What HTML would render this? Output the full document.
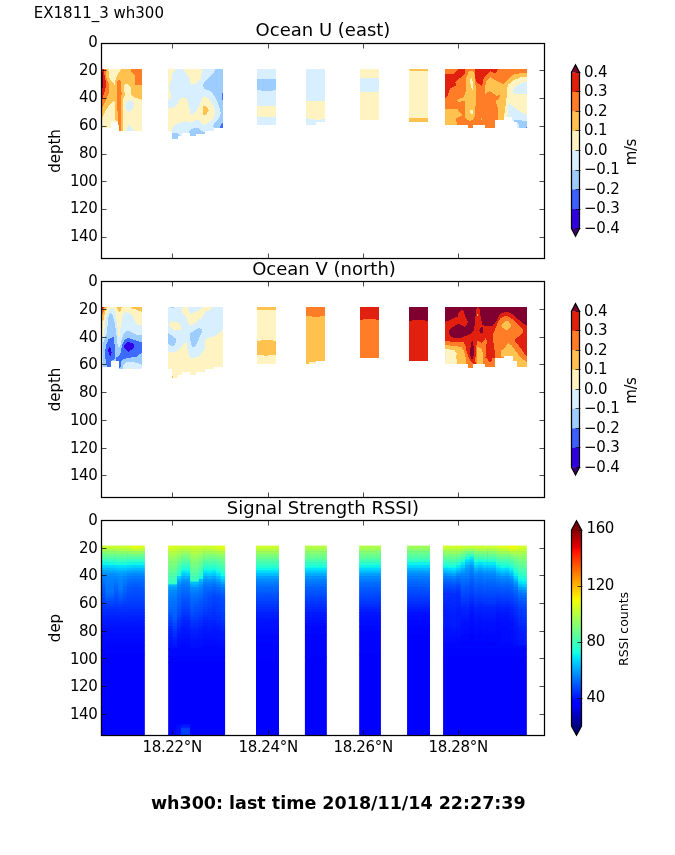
<!DOCTYPE html>
<html><head><meta charset="utf-8"><title>wh300</title>
<style>
html,body{margin:0;padding:0;background:#fff}
svg{display:block}
text{font-family:"DejaVu Sans","Liberation Sans",sans-serif;fill:#000}
.t12{font-size:15px}
.t14{font-size:18px}
.n{letter-spacing:-0.5px}
.m{letter-spacing:-0.3px}
.c{letter-spacing:-0.2px}
.sp{fill:none;stroke:#000;stroke-width:1.25}
.tk{stroke:#000;stroke-width:0.7;fill:none}
</style></head><body>
<svg width="675" height="855" viewBox="0 0 675 855">
<rect width="675" height="855" fill="#fff"/>
<text class="t12" x="33.8" y="18">EX1811_3 wh300</text>
<g shape-rendering="crispEdges">
<path fill="#fff3c2" d="M101.9 69.0L142.0 69.0L142.0 130.9L118.9 130.9L118.9 121.9L111.0 121.9L111.0 127.8L101.9 127.8z"/>
<path fill="#ffc24f" d="M101.9 69.0L108.0 69.0L109.0 73.4L109.1 76.5L110.0 80.0L113.8 83.5L114.4 85.0L115.1 85.0L115.3 80.9L116.2 77.8L117.7 74.3L119.1 72.5L121.0 69.0L142.0 69.0L142.0 99.7L135.7 98.0L131.3 95.3L130.5 91.8L130.9 87.4L126.9 83.9L123.9 85.2L124.3 90.9L125.2 94.5L123.4 98.0L123.0 105.9L123.4 118.1L123.0 130.9L118.9 130.9L118.9 121.9L115.1 119.9L115.1 103.2L113.8 100.6L110.3 104.1L106.8 108.5L104.1 113.8L101.9 118.1z"/>
<path fill="#ff7d27" d="M130.9 69.0L142.0 69.0L142.0 84.8L135.3 84.8L135.3 76.0L130.9 71.6z"/>
<path fill="#ff7d27" d="M118.6 79.5L121.0 81.3L121.0 90.9L121.9 92.7L121.2 97.1L121.0 104.1L121.2 130.9L118.9 130.9L118.4 123.4L118.0 114.6L116.9 105.9L116.9 82.2z"/>
<path fill="#ff7d27" d="M101.9 69.0L105.9 69.0L105.9 75.7L107.2 79.9L108.8 83.7L108.8 92.9L107.6 96.3L105.9 99.7L103.3 105.9L101.9 107.6z"/>
<path fill="#e2200f" d="M102.0 69.0L104.2 69.0L104.2 73.6L105.9 82.0L105.9 87.1L105.1 89.6L103.8 94.6L102.5 98.0L102.0 98.8z"/>
<path fill="#7f0030" d="M102.0 71.5L102.9 71.5L102.9 87.9L102.0 87.9z"/>
<path fill="#d8efff" d="M128.3 100.2L133.1 101.5L134.0 105.9L132.2 109.8L128.7 112.0L126.1 109.8L125.0 105.0L126.1 101.9z"/>
<path fill="#d8efff" d="M126.1 130.9L128.3 125.2L130.0 125.6L133.1 129.5L134.0 130.9z"/>
<path fill="#d8efff" d="M168.0 69.1L223.0 69.1L223.0 127.9L213.8 127.9L213.8 130.7L204.8 130.7L204.8 133.6L195.8 133.6L195.8 135.5L190.1 135.5L190.1 133.6L188.2 133.1L181.5 133.1L181.5 135.5L178.2 135.5L178.2 138.8L172.1 138.8L172.1 133.1L171.1 130.7L168.0 130.7z"/>
<path fill="#fff3c2" d="M168.0 69.1L176.8 69.1L173.5 72.0L172.1 75.3L171.6 80.0L169.7 83.8L169.2 88.5L170.6 93.3L170.6 98.0L168.0 100.9z"/>
<path fill="#fff3c2" d="M183.4 69.1L201.9 69.1L201.5 74.3L200.5 79.1L195.8 83.8L190.1 83.8L189.6 79.1L186.8 74.3z"/>
<path fill="#fff3c2" d="M168.0 107.5L173.5 108.0L177.3 104.7L178.7 100.9L181.1 98.0L186.8 98.0L188.2 103.7L189.6 109.4L190.5 113.7L193.4 114.6L196.2 111.3L199.1 105.6L201.9 99.0L204.3 96.1L208.6 98.0L211.4 102.8L214.3 107.5L215.2 112.3L214.3 117.0L210.5 121.3L203.8 125.1L201.9 123.6L199.6 120.8L196.7 119.8L193.4 121.7L189.6 122.7L186.8 121.3L181.1 122.2L176.3 124.1L173.0 126.5L171.6 130.7L168.0 130.7z"/>
<path fill="#ffc24f" d="M203.3 106.1L205.7 106.1L209.0 110.4L205.7 114.6L203.3 114.6z"/>
<path fill="#9dccff" d="M215.2 69.1L223.0 69.1L223.0 127.9L213.8 127.9L213.1 125.1L215.2 122.7L219.0 118.9L220.9 113.2L219.5 107.5L216.6 99.9L213.3 94.2L210.5 90.9L203.8 89.0L203.1 84.3L205.7 81.0L210.5 76.2L213.3 73.4z"/>
<path fill="#9dccff" d="M188.2 133.1L190.1 130.3L193.4 128.4L199.1 128.2L201.9 131.2L204.8 132.6L204.8 133.6L195.8 133.6L195.8 135.5L190.1 135.5L190.1 133.6z"/>
<path fill="#9dccff" d="M172.1 133.1L178.2 133.1L179.6 135.5L178.2 135.5L178.2 138.8L172.1 138.8z"/>
<path fill="#3d6aff" d="M222.0 92.8L223.0 92.8L223.0 99.9L222.0 99.9z"/>
<path fill="#3d6aff" d="M219.0 127.4L223.0 122.7L223.0 127.9z"/>
<path fill="#d8efff" d="M257.1 69.1L275.9 69.1L275.9 124.8L257.1 124.8z"/>
<path fill="#9dccff" d="M257.1 79.0L275.9 79.0L275.9 90.0L273.0 90.0L273.0 90.9L261.2 90.9L261.2 90.0L257.1 90.0z"/>
<path fill="#fff3c2" d="M257.1 105.8L275.9 105.8L275.9 116.1L274.9 116.1L274.9 117.0L258.1 117.0L258.1 116.1L257.1 116.1z"/>
<path fill="#d8efff" d="M306.1 69.1L324.9 69.1L324.9 121.7L316.0 121.7L316.0 124.8L306.1 124.8z"/>
<path fill="#fff3c2" d="M306.1 100.9L324.9 100.9L324.9 118.6L320.9 118.6L320.9 119.9L314.1 119.9L314.1 118.9L307.9 118.9L307.9 118.0L306.1 118.0z"/>
<path fill="#fff3c2" d="M360.1 69.1L378.9 69.1L378.9 119.9L360.1 119.9z"/>
<path fill="#d8efff" d="M360.1 77.9L378.9 77.9L378.9 90.9L377.9 91.6L361.1 91.6L360.1 90.9z"/>
<path fill="#fff3c2" d="M409.0 69.1L427.9 69.1L427.9 122.0L409.0 122.0z"/>
<path fill="#ffc24f" d="M409.0 69.1L427.9 69.1L427.9 71.0L410.5 71.0z"/>
<path fill="#ffc24f" d="M409.0 117.7L427.9 117.7L427.9 122.0L409.0 122.0z"/>
<path fill="#ff7d27" d="M445.1 69.0L527.1 69.0L527.1 127.8L517.0 127.8L517.0 121.2L511.8 121.2L511.8 116.9L504.3 116.9L504.3 120.0L494.7 120.0L494.7 127.8L485.2 127.8L485.2 124.8L472.9 124.8L472.9 127.8L468.0 127.8L468.0 124.8L445.1 124.8z"/>
<path fill="#e2200f" d="M445.1 74.1L453.7 74.1L456.0 71.1L458.6 69.0L464.8 69.0L464.8 73.7L462.7 76.0L458.6 79.0L455.2 82.0L456.0 85.7L450.0 88.3L448.5 93.2L447.7 96.2L445.1 98.8z"/>
<path fill="#e2200f" d="M475.1 69.0L493.4 69.0L491.0 70.7L488.9 72.2L485.9 75.2L483.7 77.5L482.9 83.5L481.4 85.7L478.4 83.5L475.8 81.2L475.1 75.2z"/>
<path fill="#ffc24f" d="M445.1 108.9L457.5 108.9L459.0 111.9L462.7 115.3L456.7 117.9L456.0 120.1L457.1 124.6L445.1 124.6z"/>
<path fill="#ffc24f" d="M468.7 71.5L472.4 71.1L474.3 72.2L475.1 79.0L475.8 89.4L475.8 102.9L474.7 116.4L473.2 120.1L469.4 120.9L466.4 119.4L464.6 116.4L465.0 101.4L462.0 100.7L459.0 102.5L457.1 101.1L458.6 98.8L462.7 98.1L465.3 93.9L466.1 86.5L466.4 77.5z"/>
<path fill="#fff3c2" d="M470.9 77.8L472.1 79.0L473.2 85.0L473.2 90.6L472.1 89.4L470.6 85.0L470.2 80.5z"/>
<path fill="#fff3c2" d="M470.0 110.6L473.0 109.8L473.3 113.4L471.5 114.0L470.2 112.7z"/>
<path fill="#ffc24f" d="M480.9 117.9L482.0 117.9L482.0 120.0L480.9 120.0z"/>
<path fill="#e2200f" d="M482.0 69.0L497.9 69.0L495.9 73.5L493.9 72.7L490.3 71.2L486.8 73.5L483.6 76.7L482.8 83.5L482.0 83.5L478.8 79.9z"/>
<path fill="#fff3c2" d="M527.1 75.9L520.2 76.7L513.8 79.9L507.4 84.3L506.2 88.6L505.8 97.4L504.7 103.7L503.5 114.9L503.5 116.9L511.8 116.9L511.8 121.2L517.0 122.0L517.0 127.8L527.1 127.8z"/>
<path fill="#ffc24f" d="M490.3 77.1L486.0 81.1L485.2 87.1L485.2 93.8L489.6 91.0L493.9 93.8L496.3 95.8L499.9 95.0L499.1 99.0L496.3 100.6L496.3 103.7L497.9 108.5L498.3 120.0L504.3 120.0L504.3 114.9L505.8 103.7L506.6 97.4L507.0 88.6L508.2 84.7L513.8 79.9L520.2 77.5L527.1 76.7L527.1 73.1L521.0 73.1L513.8 74.3L508.2 79.1L503.1 83.9L499.5 82.3L493.1 79.1z"/>
<path fill="#d8efff" d="M527.1 81.9L523.3 82.7L517.8 85.1L513.8 87.8L513.0 90.2L513.0 92.6L515.4 93.8L527.1 93.8z"/>
<path fill="#d8efff" d="M509.4 104.1L508.2 105.3L507.8 111.7L508.2 116.9L511.8 116.9L511.8 121.2L517.0 121.6L517.4 127.8L527.1 127.8L527.1 114.9L523.3 113.3L519.4 110.9L513.8 106.9z"/>
<path fill="#9dccff" d="M512.2 121.2L515.4 120.0L520.2 120.4L527.1 120.8L527.1 127.8L519.0 127.8L518.6 124.4L517.0 122.0z"/>
<path fill="#3d6aff" d="M526.1 126.8L527.1 126.8L527.1 127.8L526.1 127.8z"/>
<path fill="#d8efff" d="M101.9 307.0L142.0 307.0L142.0 368.9L118.9 368.9L118.9 361.0L111.0 361.0L111.0 366.7L101.9 366.7z"/>
<path fill="#fff3c2" d="M101.9 307.0L142.0 307.0L142.0 325.0L136.6 324.6L134.8 320.2L132.2 315.8L128.7 312.7L125.2 312.3L123.0 314.9L121.7 321.1L120.4 328.9L119.5 336.8L118.6 336.4L117.7 328.9L116.9 321.9L115.5 313.2L113.4 308.3L110.7 308.8L107.6 312.3L105.9 317.5L104.6 326.3L104.1 335.1L101.9 336.8z"/>
<path fill="#ffc24f" d="M116.9 307.0L122.1 307.0L120.8 310.1L119.1 312.7L117.7 309.6z"/>
<path fill="#ffc24f" d="M130.9 307.0L142.0 307.0L142.0 311.8L139.2 311.0L134.8 309.2L131.8 308.3z"/>
<path fill="#ffc24f" d="M101.9 307.0L107.2 307.0L105.9 309.6L104.6 314.0L103.7 320.2L101.9 321.1z"/>
<path fill="#ff7d27" d="M101.9 307.0L105.0 307.0L104.1 309.6L103.3 313.2L101.9 314.0z"/>
<path fill="#e2200f" d="M101.9 307.0L103.7 307.0L103.3 308.8L101.9 309.6z"/>
<path fill="#9dccff" d="M110.3 312.7L112.5 314.9L114.2 320.2L115.5 328.1L116.9 337.7L117.7 345.6L119.1 348.2L120.4 345.6L121.7 339.5L123.4 334.2L126.1 331.1L130.5 331.6L134.8 334.2L139.2 335.1L142.0 334.6L142.0 364.9L136.6 362.7L131.3 361.8L126.1 362.3L123.4 364.9L122.6 368.9L118.9 368.9L118.9 361.0L111.0 361.0L111.0 366.7L103.3 366.7L102.8 349.1L103.1 343.9L104.6 338.6L106.8 333.3L107.6 324.6L108.1 317.5z"/>
<path fill="#3d6aff" d="M111.2 337.7L113.4 336.8L114.2 341.2L115.1 349.1L115.5 357.0L114.2 359.6L111.0 361.0L111.0 366.7L106.8 366.7L105.9 361.4L105.0 356.1L105.5 349.1L106.8 343.0L108.5 339.5z"/>
<path fill="#3d6aff" d="M128.3 337.7L133.1 339.5L137.5 341.2L142.0 342.1L142.0 352.6L139.2 354.4L136.6 356.6L131.3 357.5L126.1 358.3L122.6 359.6L121.2 361.4L121.2 365.8L118.9 368.9L118.9 361.0L116.0 360.5L116.0 357.0L119.1 356.1L120.8 352.6L121.7 347.4L123.0 342.1L125.2 339.5z"/>
<path fill="#3200e6" d="M109.8 346.9L111.2 349.1L111.6 352.6L110.7 356.1L109.0 354.4L108.1 350.9L108.5 348.7z"/>
<path fill="#3200e6" d="M128.3 341.9L134.0 343.9L133.5 347.8L131.3 350.0L128.3 351.8L125.2 349.1L123.9 346.1L125.6 343.9z"/>
<path fill="#fff3c2" d="M126.9 368.0L130.0 368.0L130.0 368.9L126.9 368.9z"/>
<path fill="#fff3c2" d="M168.0 307.1L223.0 307.1L223.0 366.8L213.8 366.8L213.8 368.7L204.8 368.7L204.8 372.1L195.8 372.1L195.8 374.9L190.1 374.9L190.1 372.1L182.0 372.1L182.0 374.9L178.2 374.9L178.2 377.7L172.1 377.7L172.1 368.7L168.0 368.7z"/>
<path fill="#d8efff" d="M168.0 307.1L223.0 307.1L223.0 329.9L219.0 333.2L215.7 336.0L211.4 337.0L206.7 338.4L205.0 340.8L204.8 349.3L201.9 353.1L199.1 356.9L196.2 357.4L190.5 357.8L188.8 354.0L187.2 347.4L186.8 342.2L184.4 343.1L181.1 347.4L178.2 350.7L173.5 352.6L168.0 351.2z"/>
<path fill="#fff3c2" d="M183.4 307.1L187.7 307.1L188.8 310.4L190.1 314.2L194.3 312.3L200.0 310.0L201.9 307.1L212.8 307.1L209.5 310.4L204.8 311.9L203.3 316.1L200.0 319.0L195.3 322.8L192.4 324.8L189.4 324.8L187.2 319.9L185.8 316.1L182.5 313.3L181.1 310.4z"/>
<path fill="#fff3c2" d="M172.1 321.3L177.3 322.3L180.6 325.1L181.8 330.3L174.4 330.3L170.6 327.5L169.2 325.1L170.2 322.3z"/>
<path fill="#9dccff" d="M168.0 332.2L170.6 334.6L173.5 337.5L175.9 338.4L175.9 342.7L174.0 345.5L171.6 346.0L168.0 344.1z"/>
<path fill="#9dccff" d="M199.6 328.0L201.9 329.4L201.9 331.8L199.6 337.0L197.7 341.7L195.3 346.5L192.4 346.6L191.0 344.6L190.1 337.9L190.5 333.2L193.4 330.8L196.7 328.9z"/>
<path fill="#9dccff" d="M171.1 307.1L174.0 307.1L174.0 307.9L171.1 307.9z"/>
<path fill="#ffc24f" d="M172.1 375.9L173.0 375.9L173.0 377.7L172.1 377.7z"/>
<path fill="#fff3c2" d="M257.1 307.1L275.9 307.1L275.9 363.8L257.1 363.8z"/>
<path fill="#ffc24f" d="M257.1 307.1L275.9 307.1L275.9 310.0L257.1 310.0z"/>
<path fill="#ffc24f" d="M257.1 340.8L261.2 340.8L261.2 340.1L273.0 340.1L273.0 340.8L275.9 340.8L275.9 354.8L268.0 354.8L268.0 355.6L263.7 355.6L263.7 354.8L257.1 354.8z"/>
<path fill="#ffc24f" d="M306.1 307.1L324.9 307.1L324.9 361.0L316.0 361.0L316.0 363.5L306.1 363.5z"/>
<path fill="#ff7d27" d="M306.1 307.1L324.9 307.1L324.9 315.9L319.7 315.9L319.7 316.8L312.2 316.8L312.2 315.9L306.1 315.9z"/>
<path fill="#fff3c2" d="M308.5 361.8L316.0 361.8L316.0 363.5L308.5 363.5z"/>
<path fill="#ff7d27" d="M360.1 307.1L378.9 307.1L378.9 357.9L360.1 357.9z"/>
<path fill="#e2200f" d="M360.1 307.1L378.9 307.1L378.9 319.9L375.6 319.9L375.6 319.0L363.2 319.0L363.2 319.9L360.1 319.9z"/>
<path fill="#e2200f" d="M409.0 307.1L427.9 307.1L427.9 361.0L409.0 361.0z"/>
<path fill="#7f0030" d="M409.0 307.1L427.9 307.1L427.9 320.9L424.8 320.9L424.8 319.9L412.4 319.9L412.4 320.9L409.0 320.9z"/>
<path fill="#e2200f" d="M445.1 307.0L527.1 307.0L527.1 366.8L517.0 366.8L517.0 360.8L512.6 360.8L512.6 356.0L504.3 356.0L504.3 358.0L494.7 358.0L494.7 366.8L485.2 366.8L485.2 363.6L472.9 363.6L472.9 367.5L468.0 367.5L468.0 363.6L445.1 363.6z"/>
<path fill="#7f0030" d="M445.1 307.0L476.9 307.0L476.2 310.2L475.4 317.0L475.1 323.7L473.9 327.4L474.3 330.4L470.9 333.4L466.4 335.7L460.5 337.9L454.5 337.9L450.7 336.4L448.9 333.4L448.9 330.4L451.5 328.2L456.7 324.5L459.7 324.1L462.3 326.0L465.0 327.1L466.4 325.2L467.9 322.2L466.4 319.2L465.0 315.5L463.8 311.0L462.0 309.9L459.7 311.7L457.8 314.0L457.5 316.6L454.5 317.7L450.0 320.0L445.1 321.8z"/>
<path fill="#7f0030" d="M478.1 307.0L493.4 307.0L493.4 326.0L485.9 326.0L482.5 324.1L481.0 320.0L480.3 314.7L479.9 310.2z"/>
<path fill="#7f0030" d="M481.4 327.1L482.9 328.9L482.5 332.7L481.0 333.8L479.9 331.9L479.2 330.1z"/>
<path fill="#7f0030" d="M471.3 341.7L472.8 341.3L473.6 346.9L473.9 354.4L472.8 358.5L471.3 358.5L470.2 354.4L470.6 346.9z"/>
<path fill="#ff7d27" d="M445.1 340.9L448.5 341.3L454.5 342.4L460.5 342.0L463.5 342.4L465.3 345.4L466.4 350.7L468.7 357.4L470.9 361.9L472.8 363.8L472.8 367.9L467.9 367.9L467.9 363.8L445.1 363.8z"/>
<path fill="#ffc24f" d="M445.1 345.0L448.5 345.4L456.0 346.2L461.2 346.9L463.5 349.9L465.0 354.4L466.1 360.4L466.4 363.8L445.1 363.8z"/>
<path fill="#fff3c2" d="M445.1 349.2L448.5 349.2L454.5 350.3L456.7 352.9L456.3 357.4L457.1 361.9L457.5 363.8L445.1 363.8z"/>
<path fill="#d8efff" d="M445.1 355.9L446.1 355.9L446.1 358.9L445.1 358.9z"/>
<path fill="#ff7d27" d="M477.7 340.2L480.7 342.4L482.9 342.8L484.4 340.9L485.5 337.9L486.7 340.9L486.3 346.9L485.9 353.6L485.2 358.9L485.2 363.8L476.2 363.8L475.1 360.4L475.8 354.4L476.2 346.9z"/>
<path fill="#ffc24f" d="M477.3 346.9L479.9 347.7L482.2 349.9L482.9 354.4L483.3 359.6L483.7 363.8L477.3 363.8z"/>
<path fill="#ffc24f" d="M476.9 313.2L478.1 314.0L478.1 315.8L476.9 315.8z"/>
<path fill="#7f0030" d="M482.0 307.0L527.1 307.0L527.1 325.8L523.3 323.5L519.4 320.3L515.4 316.7L511.4 313.5L509.0 312.3L505.1 311.9L501.1 313.5L498.7 316.3L497.1 320.3L494.7 323.5L489.9 325.4L485.2 325.8L482.0 325.1z"/>
<path fill="#ff7d27" d="M505.1 315.9L509.0 316.7L512.2 319.1L516.2 322.7L520.2 326.6L522.9 329.8L522.9 332.6L519.4 335.8L515.4 339.4L515.0 341.0L517.8 344.1L521.7 349.7L524.9 354.5L527.1 356.8L527.1 366.8L517.0 366.8L517.0 360.8L512.6 360.8L512.6 356.1L504.3 356.1L504.3 358.0L494.7 358.0L495.1 353.7L493.9 346.5L493.1 340.2L493.5 333.0L495.9 327.4L497.9 321.9L500.7 317.9z"/>
<path fill="#ffc24f" d="M505.8 321.1L508.6 321.5L510.6 323.9L510.6 327.0L508.6 329.4L505.1 329.8L502.3 327.4L501.1 325.1L503.5 322.7z"/>
<path fill="#ffc24f" d="M508.6 343.3L511.0 344.9L513.8 348.1L517.0 352.9L521.7 358.4L527.1 362.4L527.1 366.8L517.0 366.8L517.0 360.8L512.6 360.8L512.6 356.1L504.3 356.1L504.3 356.8L501.5 356.8L501.1 350.5L504.3 348.5L506.6 345.3z"/>
<path fill="#ff7d27" d="M482.0 342.5L484.4 340.2L485.6 338.2L486.4 341.0L486.0 346.5L485.2 352.9L485.2 358.4L487.2 358.0L488.4 360.8L489.9 362.4L491.5 360.8L491.9 358.0L494.7 358.0L494.7 366.8L485.2 366.8L485.2 363.6L482.0 363.6z"/>
<path fill="#e2200f" d="M488.4 358.4L490.7 358.0L491.9 360.0L490.3 362.8L488.4 361.2z"/>
<path fill="#ffc24f" d="M482.0 352.1L483.2 352.1L483.2 363.6L482.0 363.6z"/>
<path fill="#7f0030" d="M482.0 327.4L483.0 327.4L483.0 332.6L482.0 332.6z"/>
</g>
<g>
<rect x="101.5" y="548.4" width="42.7" height="187.1" fill="#0000ff"/>
<rect x="100.9" y="545.6" width="5" height="3.4" fill="#c8ff2f"/>
<rect x="100.9" y="548.4" width="5" height="3.4" fill="#a7ff4f"/>
<rect x="100.9" y="551.1" width="5" height="3.4" fill="#84ff73"/>
<rect x="100.9" y="553.9" width="5" height="3.4" fill="#67ff90"/>
<rect x="100.9" y="556.7" width="5" height="3.4" fill="#4cffaa"/>
<rect x="100.9" y="559.5" width="5" height="3.4" fill="#2fffc8"/>
<rect x="100.9" y="562.2" width="5" height="3.4" fill="#0ff8e8"/>
<rect x="100.9" y="565" width="5" height="3.4" fill="#00d7ff"/>
<rect x="100.9" y="567.8" width="5" height="3.4" fill="#00baff"/>
<rect x="100.9" y="570.5" width="5" height="3.4" fill="#00a0ff"/>
<rect x="100.9" y="573.3" width="5" height="3.4" fill="#008eff"/>
<rect x="100.9" y="576.1" width="5" height="3.4" fill="#0080ff"/>
<rect x="100.9" y="578.9" width="5" height="3.4" fill="#0075ff"/>
<rect x="100.9" y="581.6" width="5" height="3.4" fill="#006dff"/>
<rect x="100.9" y="584.4" width="5" height="3.4" fill="#0066ff"/>
<rect x="100.9" y="587.2" width="5" height="3.4" fill="#005fff"/>
<rect x="100.9" y="589.9" width="5" height="3.4" fill="#0057ff"/>
<rect x="100.9" y="592.7" width="5" height="3.4" fill="#0050ff"/>
<rect x="100.9" y="595.5" width="5" height="3.4" fill="#004dff"/>
<rect x="100.9" y="598.2" width="5" height="3.4" fill="#0045ff"/>
<rect x="100.9" y="601" width="5" height="3.4" fill="#003eff"/>
<rect x="100.9" y="603.8" width="5" height="3.4" fill="#003aff"/>
<rect x="100.9" y="606.6" width="5" height="3.4" fill="#0033ff"/>
<rect x="100.9" y="609.3" width="5" height="3.4" fill="#002cff"/>
<rect x="100.9" y="612.1" width="5" height="3.4" fill="#0028ff"/>
<rect x="100.9" y="614.9" width="5" height="3.4" fill="#0021ff"/>
<rect x="100.9" y="617.6" width="5" height="3.4" fill="#001dff"/>
<rect x="100.9" y="620.4" width="5" height="3.4" fill="#0019ff"/>
<rect x="100.9" y="623.2" width="5" height="3.4" fill="#0016ff"/>
<rect x="100.9" y="626" width="5" height="3.4" fill="#0012ff"/>
<rect x="105.3" y="545.6" width="5" height="3.4" fill="#c8ff2f"/>
<rect x="105.3" y="548.4" width="5" height="3.4" fill="#a7ff4f"/>
<rect x="105.3" y="551.1" width="5" height="3.4" fill="#84ff73"/>
<rect x="105.3" y="553.9" width="5" height="3.4" fill="#67ff90"/>
<rect x="105.3" y="556.7" width="5" height="3.4" fill="#4cffaa"/>
<rect x="105.3" y="559.5" width="5" height="3.4" fill="#2fffc8"/>
<rect x="105.3" y="562.2" width="5" height="3.4" fill="#0ff8e8"/>
<rect x="105.3" y="565" width="5" height="3.4" fill="#00d7ff"/>
<rect x="105.3" y="567.8" width="5" height="3.4" fill="#00baff"/>
<rect x="105.3" y="570.5" width="5" height="3.4" fill="#00a0ff"/>
<rect x="105.3" y="573.3" width="5" height="3.4" fill="#008eff"/>
<rect x="105.3" y="576.1" width="5" height="3.4" fill="#0083ff"/>
<rect x="105.3" y="578.9" width="5" height="3.4" fill="#0080ff"/>
<rect x="105.3" y="581.6" width="5" height="3.4" fill="#007cff"/>
<rect x="105.3" y="584.4" width="5" height="3.4" fill="#0078ff"/>
<rect x="105.3" y="587.2" width="5" height="6.1" fill="#0075ff"/>
<rect x="105.3" y="592.7" width="5" height="3.4" fill="#006aff"/>
<rect x="105.3" y="595.5" width="5" height="3.4" fill="#005fff"/>
<rect x="105.3" y="598.2" width="5" height="3.4" fill="#0054ff"/>
<rect x="105.3" y="601" width="5" height="3.4" fill="#0049ff"/>
<rect x="105.3" y="603.8" width="5" height="3.4" fill="#003eff"/>
<rect x="105.3" y="606.6" width="5" height="3.4" fill="#0033ff"/>
<rect x="105.3" y="609.3" width="5" height="3.4" fill="#002cff"/>
<rect x="105.3" y="612.1" width="5" height="3.4" fill="#0028ff"/>
<rect x="105.3" y="614.9" width="5" height="3.4" fill="#0021ff"/>
<rect x="105.3" y="617.6" width="5" height="3.4" fill="#001dff"/>
<rect x="105.3" y="620.4" width="5" height="3.4" fill="#0019ff"/>
<rect x="105.3" y="623.2" width="5" height="3.4" fill="#0016ff"/>
<rect x="105.3" y="626" width="5" height="3.4" fill="#0012ff"/>
<rect x="109.7" y="545.6" width="5" height="3.4" fill="#c8ff2f"/>
<rect x="109.7" y="548.4" width="5" height="3.4" fill="#a7ff4f"/>
<rect x="109.7" y="551.1" width="5" height="3.4" fill="#87ff70"/>
<rect x="109.7" y="553.9" width="5" height="3.4" fill="#6aff8d"/>
<rect x="109.7" y="556.7" width="5" height="3.4" fill="#4cffaa"/>
<rect x="109.7" y="559.5" width="5" height="3.4" fill="#32ffc5"/>
<rect x="109.7" y="562.2" width="5" height="3.4" fill="#12fbe5"/>
<rect x="109.7" y="565" width="5" height="3.4" fill="#00dbff"/>
<rect x="109.7" y="567.8" width="5" height="3.4" fill="#00bdff"/>
<rect x="109.7" y="570.5" width="5" height="3.4" fill="#00a4ff"/>
<rect x="109.7" y="573.3" width="5" height="3.4" fill="#008eff"/>
<rect x="109.7" y="576.1" width="5" height="3.4" fill="#0087ff"/>
<rect x="109.7" y="578.9" width="5" height="3.4" fill="#0080ff"/>
<rect x="109.7" y="581.6" width="5" height="3.4" fill="#007cff"/>
<rect x="109.7" y="584.4" width="5" height="3.4" fill="#0078ff"/>
<rect x="109.7" y="587.2" width="5" height="6.1" fill="#0075ff"/>
<rect x="109.7" y="592.7" width="5" height="3.4" fill="#006aff"/>
<rect x="109.7" y="595.5" width="5" height="3.4" fill="#005fff"/>
<rect x="109.7" y="598.2" width="5" height="3.4" fill="#0054ff"/>
<rect x="109.7" y="601" width="5" height="3.4" fill="#0049ff"/>
<rect x="109.7" y="603.8" width="5" height="3.4" fill="#003eff"/>
<rect x="109.7" y="606.6" width="5" height="3.4" fill="#0033ff"/>
<rect x="109.7" y="609.3" width="5" height="3.4" fill="#002cff"/>
<rect x="109.7" y="612.1" width="5" height="3.4" fill="#0028ff"/>
<rect x="109.7" y="614.9" width="5" height="3.4" fill="#0021ff"/>
<rect x="109.7" y="617.6" width="5" height="3.4" fill="#001dff"/>
<rect x="109.7" y="620.4" width="5" height="3.4" fill="#0019ff"/>
<rect x="109.7" y="623.2" width="5" height="3.4" fill="#0016ff"/>
<rect x="109.7" y="626" width="5" height="3.4" fill="#0012ff"/>
<rect x="114.1" y="545.6" width="5" height="3.4" fill="#c8ff2f"/>
<rect x="114.1" y="548.4" width="5" height="3.4" fill="#a7ff4f"/>
<rect x="114.1" y="551.1" width="5" height="3.4" fill="#87ff70"/>
<rect x="114.1" y="553.9" width="5" height="3.4" fill="#6aff8d"/>
<rect x="114.1" y="556.7" width="5" height="3.4" fill="#4fffa7"/>
<rect x="114.1" y="559.5" width="5" height="3.4" fill="#35ffc2"/>
<rect x="114.1" y="562.2" width="5" height="3.4" fill="#18ffdf"/>
<rect x="114.1" y="565" width="5" height="3.4" fill="#00defd"/>
<rect x="114.1" y="567.8" width="5" height="3.4" fill="#00c1ff"/>
<rect x="114.1" y="570.5" width="5" height="3.4" fill="#00a8ff"/>
<rect x="114.1" y="573.3" width="5" height="3.4" fill="#0092ff"/>
<rect x="114.1" y="576.1" width="5" height="3.4" fill="#0087ff"/>
<rect x="114.1" y="578.9" width="5" height="3.4" fill="#007cff"/>
<rect x="114.1" y="581.6" width="5" height="3.4" fill="#0075ff"/>
<rect x="114.1" y="584.4" width="5" height="3.4" fill="#006dff"/>
<rect x="114.1" y="587.2" width="5" height="3.4" fill="#0066ff"/>
<rect x="114.1" y="589.9" width="5" height="3.4" fill="#005fff"/>
<rect x="114.1" y="592.7" width="5" height="3.4" fill="#0057ff"/>
<rect x="114.1" y="595.5" width="5" height="3.4" fill="#0050ff"/>
<rect x="114.1" y="598.2" width="5" height="3.4" fill="#0049ff"/>
<rect x="114.1" y="601" width="5" height="3.4" fill="#0042ff"/>
<rect x="114.1" y="603.8" width="5" height="3.4" fill="#003aff"/>
<rect x="114.1" y="606.6" width="5" height="3.4" fill="#0033ff"/>
<rect x="114.1" y="609.3" width="5" height="3.4" fill="#002cff"/>
<rect x="114.1" y="612.1" width="5" height="3.4" fill="#0028ff"/>
<rect x="114.1" y="614.9" width="5" height="3.4" fill="#0021ff"/>
<rect x="114.1" y="617.6" width="5" height="3.4" fill="#001dff"/>
<rect x="114.1" y="620.4" width="5" height="3.4" fill="#0019ff"/>
<rect x="114.1" y="623.2" width="5" height="3.4" fill="#0016ff"/>
<rect x="114.1" y="626" width="5" height="3.4" fill="#0012ff"/>
<rect x="118.5" y="545.6" width="5" height="3.4" fill="#ceff29"/>
<rect x="118.5" y="548.4" width="5" height="3.4" fill="#adff49"/>
<rect x="118.5" y="551.1" width="5" height="3.4" fill="#8aff6d"/>
<rect x="118.5" y="553.9" width="5" height="3.4" fill="#6dff8a"/>
<rect x="118.5" y="556.7" width="5" height="3.4" fill="#52ffa5"/>
<rect x="118.5" y="559.5" width="5" height="3.4" fill="#38ffbf"/>
<rect x="118.5" y="562.2" width="5" height="3.4" fill="#1affdc"/>
<rect x="118.5" y="565" width="5" height="3.4" fill="#00e2fa"/>
<rect x="118.5" y="567.8" width="5" height="3.4" fill="#00c5ff"/>
<rect x="118.5" y="570.5" width="5" height="3.4" fill="#00abff"/>
<rect x="118.5" y="573.3" width="5" height="3.4" fill="#0099ff"/>
<rect x="118.5" y="576.1" width="5" height="3.4" fill="#008eff"/>
<rect x="118.5" y="578.9" width="5" height="3.4" fill="#0087ff"/>
<rect x="118.5" y="581.6" width="5" height="3.4" fill="#0083ff"/>
<rect x="118.5" y="584.4" width="5" height="3.4" fill="#0080ff"/>
<rect x="118.5" y="587.2" width="5" height="3.4" fill="#007cff"/>
<rect x="118.5" y="589.9" width="5" height="3.4" fill="#0071ff"/>
<rect x="118.5" y="592.7" width="5" height="3.4" fill="#0066ff"/>
<rect x="118.5" y="595.5" width="5" height="3.4" fill="#005fff"/>
<rect x="118.5" y="598.2" width="5" height="3.4" fill="#0054ff"/>
<rect x="118.5" y="601" width="5" height="3.4" fill="#0049ff"/>
<rect x="118.5" y="603.8" width="5" height="3.4" fill="#003eff"/>
<rect x="118.5" y="606.6" width="5" height="3.4" fill="#0033ff"/>
<rect x="118.5" y="609.3" width="5" height="3.4" fill="#002fff"/>
<rect x="118.5" y="612.1" width="5" height="3.4" fill="#0028ff"/>
<rect x="118.5" y="614.9" width="5" height="3.4" fill="#0024ff"/>
<rect x="118.5" y="617.6" width="5" height="3.4" fill="#001dff"/>
<rect x="118.5" y="620.4" width="5" height="3.4" fill="#0019ff"/>
<rect x="118.5" y="623.2" width="5" height="3.4" fill="#0016ff"/>
<rect x="118.5" y="626" width="5" height="3.4" fill="#0012ff"/>
<rect x="122.9" y="545.6" width="5" height="3.4" fill="#ceff29"/>
<rect x="122.9" y="548.4" width="5" height="3.4" fill="#adff49"/>
<rect x="122.9" y="551.1" width="5" height="3.4" fill="#8aff6d"/>
<rect x="122.9" y="553.9" width="5" height="3.4" fill="#6dff8a"/>
<rect x="122.9" y="556.7" width="5" height="3.4" fill="#52ffa5"/>
<rect x="122.9" y="559.5" width="5" height="3.4" fill="#38ffbf"/>
<rect x="122.9" y="562.2" width="5" height="3.4" fill="#1affdc"/>
<rect x="122.9" y="565" width="5" height="3.4" fill="#00e2fa"/>
<rect x="122.9" y="567.8" width="5" height="3.4" fill="#00c5ff"/>
<rect x="122.9" y="570.5" width="5" height="3.4" fill="#00abff"/>
<rect x="122.9" y="573.3" width="5" height="3.4" fill="#0095ff"/>
<rect x="122.9" y="576.1" width="5" height="3.4" fill="#0087ff"/>
<rect x="122.9" y="578.9" width="5" height="3.4" fill="#007cff"/>
<rect x="122.9" y="581.6" width="5" height="3.4" fill="#0075ff"/>
<rect x="122.9" y="584.4" width="5" height="3.4" fill="#006dff"/>
<rect x="122.9" y="587.2" width="5" height="3.4" fill="#0066ff"/>
<rect x="122.9" y="589.9" width="5" height="3.4" fill="#005fff"/>
<rect x="122.9" y="592.7" width="5" height="3.4" fill="#0057ff"/>
<rect x="122.9" y="595.5" width="5" height="3.4" fill="#0050ff"/>
<rect x="122.9" y="598.2" width="5" height="3.4" fill="#0049ff"/>
<rect x="122.9" y="601" width="5" height="3.4" fill="#0042ff"/>
<rect x="122.9" y="603.8" width="5" height="3.4" fill="#003aff"/>
<rect x="122.9" y="606.6" width="5" height="3.4" fill="#0033ff"/>
<rect x="122.9" y="609.3" width="5" height="3.4" fill="#002fff"/>
<rect x="122.9" y="612.1" width="5" height="3.4" fill="#0028ff"/>
<rect x="122.9" y="614.9" width="5" height="3.4" fill="#0024ff"/>
<rect x="122.9" y="617.6" width="5" height="3.4" fill="#001dff"/>
<rect x="122.9" y="620.4" width="5" height="3.4" fill="#0019ff"/>
<rect x="122.9" y="623.2" width="5" height="3.4" fill="#0016ff"/>
<rect x="122.9" y="626" width="5" height="3.4" fill="#0012ff"/>
<rect x="127.2" y="545.6" width="5" height="3.4" fill="#d4ff23"/>
<rect x="127.2" y="548.4" width="5" height="3.4" fill="#b0ff47"/>
<rect x="127.2" y="551.1" width="5" height="3.4" fill="#8dff6a"/>
<rect x="127.2" y="553.9" width="5" height="3.4" fill="#6dff8a"/>
<rect x="127.2" y="556.7" width="5" height="3.4" fill="#4cffaa"/>
<rect x="127.2" y="559.5" width="5" height="3.4" fill="#32ffc5"/>
<rect x="127.2" y="562.2" width="5" height="3.4" fill="#12fbe5"/>
<rect x="127.2" y="565" width="5" height="3.4" fill="#00dbff"/>
<rect x="127.2" y="567.8" width="5" height="3.4" fill="#00bdff"/>
<rect x="127.2" y="570.5" width="5" height="3.4" fill="#00a0ff"/>
<rect x="127.2" y="573.3" width="5" height="3.4" fill="#008aff"/>
<rect x="127.2" y="576.1" width="5" height="3.4" fill="#007cff"/>
<rect x="127.2" y="578.9" width="5" height="3.4" fill="#0071ff"/>
<rect x="127.2" y="581.6" width="5" height="3.4" fill="#0066ff"/>
<rect x="127.2" y="584.4" width="5" height="3.4" fill="#005fff"/>
<rect x="127.2" y="587.2" width="5" height="3.4" fill="#0057ff"/>
<rect x="127.2" y="589.9" width="5" height="3.4" fill="#0054ff"/>
<rect x="127.2" y="592.7" width="5" height="3.4" fill="#004dff"/>
<rect x="127.2" y="595.5" width="5" height="3.4" fill="#0049ff"/>
<rect x="127.2" y="598.2" width="5" height="3.4" fill="#0045ff"/>
<rect x="127.2" y="601" width="5" height="3.4" fill="#003eff"/>
<rect x="127.2" y="603.8" width="5" height="3.4" fill="#003aff"/>
<rect x="127.2" y="606.6" width="5" height="3.4" fill="#0033ff"/>
<rect x="127.2" y="609.3" width="5" height="3.4" fill="#002cff"/>
<rect x="127.2" y="612.1" width="5" height="3.4" fill="#0028ff"/>
<rect x="127.2" y="614.9" width="5" height="3.4" fill="#0021ff"/>
<rect x="127.2" y="617.6" width="5" height="3.4" fill="#001dff"/>
<rect x="127.2" y="620.4" width="5" height="3.4" fill="#0019ff"/>
<rect x="127.2" y="623.2" width="5" height="3.4" fill="#0016ff"/>
<rect x="127.2" y="626" width="5" height="3.4" fill="#0012ff"/>
<rect x="131.6" y="545.6" width="5" height="3.4" fill="#e5ff12"/>
<rect x="131.6" y="548.4" width="5" height="3.4" fill="#bcff3b"/>
<rect x="131.6" y="551.1" width="5" height="3.4" fill="#93ff64"/>
<rect x="131.6" y="553.9" width="5" height="3.4" fill="#70ff87"/>
<rect x="131.6" y="556.7" width="5" height="3.4" fill="#4cffaa"/>
<rect x="131.6" y="559.5" width="5" height="3.4" fill="#2fffc8"/>
<rect x="131.6" y="562.2" width="5" height="3.4" fill="#0ff8e8"/>
<rect x="131.6" y="565" width="5" height="3.4" fill="#00d7ff"/>
<rect x="131.6" y="567.8" width="5" height="3.4" fill="#00baff"/>
<rect x="131.6" y="570.5" width="5" height="3.4" fill="#009dff"/>
<rect x="131.6" y="573.3" width="5" height="3.4" fill="#0087ff"/>
<rect x="131.6" y="576.1" width="5" height="3.4" fill="#0078ff"/>
<rect x="131.6" y="578.9" width="5" height="3.4" fill="#006dff"/>
<rect x="131.6" y="581.6" width="5" height="3.4" fill="#0062ff"/>
<rect x="131.6" y="584.4" width="5" height="3.4" fill="#005bff"/>
<rect x="131.6" y="587.2" width="5" height="3.4" fill="#0054ff"/>
<rect x="131.6" y="589.9" width="5" height="3.4" fill="#0050ff"/>
<rect x="131.6" y="592.7" width="5" height="3.4" fill="#004dff"/>
<rect x="131.6" y="595.5" width="5" height="3.4" fill="#0045ff"/>
<rect x="131.6" y="598.2" width="5" height="3.4" fill="#0042ff"/>
<rect x="131.6" y="601" width="5" height="3.4" fill="#003eff"/>
<rect x="131.6" y="603.8" width="5" height="3.4" fill="#003aff"/>
<rect x="131.6" y="606.6" width="5" height="3.4" fill="#0033ff"/>
<rect x="131.6" y="609.3" width="5" height="3.4" fill="#002cff"/>
<rect x="131.6" y="612.1" width="5" height="3.4" fill="#0028ff"/>
<rect x="131.6" y="614.9" width="5" height="3.4" fill="#0021ff"/>
<rect x="131.6" y="617.6" width="5" height="3.4" fill="#001dff"/>
<rect x="131.6" y="620.4" width="5" height="3.4" fill="#0019ff"/>
<rect x="131.6" y="623.2" width="5" height="3.4" fill="#0016ff"/>
<rect x="131.6" y="626" width="5" height="3.4" fill="#0012ff"/>
<rect x="136" y="545.6" width="5" height="3.4" fill="#e5ff12"/>
<rect x="136" y="548.4" width="5" height="3.4" fill="#bcff3b"/>
<rect x="136" y="551.1" width="5" height="3.4" fill="#93ff64"/>
<rect x="136" y="553.9" width="5" height="3.4" fill="#70ff87"/>
<rect x="136" y="556.7" width="5" height="3.4" fill="#4cffaa"/>
<rect x="136" y="559.5" width="5" height="3.4" fill="#2fffc8"/>
<rect x="136" y="562.2" width="5" height="3.4" fill="#0ff8e8"/>
<rect x="136" y="565" width="5" height="3.4" fill="#00d7ff"/>
<rect x="136" y="567.8" width="5" height="3.4" fill="#00baff"/>
<rect x="136" y="570.5" width="5" height="3.4" fill="#009dff"/>
<rect x="136" y="573.3" width="5" height="3.4" fill="#0087ff"/>
<rect x="136" y="576.1" width="5" height="3.4" fill="#0078ff"/>
<rect x="136" y="578.9" width="5" height="3.4" fill="#006dff"/>
<rect x="136" y="581.6" width="5" height="3.4" fill="#0062ff"/>
<rect x="136" y="584.4" width="5" height="3.4" fill="#005bff"/>
<rect x="136" y="587.2" width="5" height="3.4" fill="#0054ff"/>
<rect x="136" y="589.9" width="5" height="3.4" fill="#0050ff"/>
<rect x="136" y="592.7" width="5" height="3.4" fill="#004dff"/>
<rect x="136" y="595.5" width="5" height="3.4" fill="#0045ff"/>
<rect x="136" y="598.2" width="5" height="3.4" fill="#0042ff"/>
<rect x="136" y="601" width="5" height="3.4" fill="#003eff"/>
<rect x="136" y="603.8" width="5" height="3.4" fill="#003aff"/>
<rect x="136" y="606.6" width="5" height="3.4" fill="#0033ff"/>
<rect x="136" y="609.3" width="5" height="3.4" fill="#002cff"/>
<rect x="136" y="612.1" width="5" height="3.4" fill="#0028ff"/>
<rect x="136" y="614.9" width="5" height="3.4" fill="#0021ff"/>
<rect x="136" y="617.6" width="5" height="3.4" fill="#001dff"/>
<rect x="136" y="620.4" width="5" height="3.4" fill="#0019ff"/>
<rect x="136" y="623.2" width="5" height="3.4" fill="#0016ff"/>
<rect x="136" y="626" width="5" height="3.4" fill="#0012ff"/>
<rect x="140.4" y="545.6" width="4.4" height="3.4" fill="#d9ff1d"/>
<rect x="140.4" y="548.4" width="4.4" height="3.4" fill="#b3ff44"/>
<rect x="140.4" y="551.1" width="4.4" height="3.4" fill="#8dff6a"/>
<rect x="140.4" y="553.9" width="4.4" height="3.4" fill="#6dff8a"/>
<rect x="140.4" y="556.7" width="4.4" height="3.4" fill="#4cffaa"/>
<rect x="140.4" y="559.5" width="4.4" height="3.4" fill="#2fffc8"/>
<rect x="140.4" y="562.2" width="4.4" height="3.4" fill="#0ff8e8"/>
<rect x="140.4" y="565" width="4.4" height="3.4" fill="#00d7ff"/>
<rect x="140.4" y="567.8" width="4.4" height="3.4" fill="#00baff"/>
<rect x="140.4" y="570.5" width="4.4" height="3.4" fill="#00a0ff"/>
<rect x="140.4" y="573.3" width="4.4" height="3.4" fill="#008aff"/>
<rect x="140.4" y="576.1" width="4.4" height="3.4" fill="#007cff"/>
<rect x="140.4" y="578.9" width="4.4" height="3.4" fill="#006dff"/>
<rect x="140.4" y="581.6" width="4.4" height="3.4" fill="#0066ff"/>
<rect x="140.4" y="584.4" width="4.4" height="3.4" fill="#005fff"/>
<rect x="140.4" y="587.2" width="4.4" height="3.4" fill="#0057ff"/>
<rect x="140.4" y="589.9" width="4.4" height="3.4" fill="#0050ff"/>
<rect x="140.4" y="592.7" width="4.4" height="3.4" fill="#004dff"/>
<rect x="140.4" y="595.5" width="4.4" height="3.4" fill="#0049ff"/>
<rect x="140.4" y="598.2" width="4.4" height="3.4" fill="#0045ff"/>
<rect x="140.4" y="601" width="4.4" height="3.4" fill="#003eff"/>
<rect x="140.4" y="603.8" width="4.4" height="3.4" fill="#003aff"/>
<rect x="140.4" y="606.6" width="4.4" height="3.4" fill="#0033ff"/>
<rect x="140.4" y="609.3" width="4.4" height="3.4" fill="#002cff"/>
<rect x="140.4" y="612.1" width="4.4" height="3.4" fill="#0028ff"/>
<rect x="140.4" y="614.9" width="4.4" height="3.4" fill="#0021ff"/>
<rect x="140.4" y="617.6" width="4.4" height="3.4" fill="#001dff"/>
<rect x="140.4" y="620.4" width="4.4" height="3.4" fill="#0019ff"/>
<rect x="140.4" y="623.2" width="4.4" height="3.4" fill="#0016ff"/>
<rect x="140.4" y="626" width="4.4" height="3.4" fill="#0012ff"/>
<rect x="100.9" y="628.7" width="43.9" height="6.1" fill="#000fff"/>
<rect x="100.9" y="634.3" width="43.9" height="6.1" fill="#000bff"/>
<rect x="100.9" y="639.8" width="43.9" height="6.1" fill="#0007ff"/>
<rect x="100.9" y="645.4" width="43.9" height="8.9" fill="#0004ff"/>
<rect x="100.9" y="653.7" width="43.9" height="81.8" fill="#0000ff"/>
<rect x="168.8" y="548.4" width="55.7" height="187.1" fill="#0000ff"/>
<rect x="168.2" y="545.6" width="5" height="3.4" fill="#d9ff1d"/>
<rect x="168.2" y="548.4" width="5" height="3.4" fill="#c8ff2f"/>
<rect x="168.2" y="551.1" width="5" height="3.4" fill="#b6ff41"/>
<rect x="168.2" y="553.9" width="5" height="3.4" fill="#a7ff4f"/>
<rect x="168.2" y="556.7" width="5" height="3.4" fill="#96ff61"/>
<rect x="168.2" y="559.5" width="5" height="3.4" fill="#8aff6d"/>
<rect x="168.2" y="562.2" width="5" height="3.4" fill="#7eff78"/>
<rect x="168.2" y="565" width="5" height="3.4" fill="#73ff84"/>
<rect x="168.2" y="567.8" width="5" height="3.4" fill="#6aff8d"/>
<rect x="168.2" y="570.5" width="5" height="3.4" fill="#5eff99"/>
<rect x="168.2" y="573.3" width="5" height="3.4" fill="#52ffa5"/>
<rect x="168.2" y="576.1" width="5" height="3.4" fill="#49ffad"/>
<rect x="168.2" y="578.9" width="5" height="3.4" fill="#3effb9"/>
<rect x="168.2" y="581.6" width="5" height="3.4" fill="#35ffc2"/>
<rect x="168.2" y="584.4" width="5" height="3.4" fill="#00b2ff"/>
<rect x="168.2" y="587.2" width="5" height="3.4" fill="#009dff"/>
<rect x="168.2" y="589.9" width="5" height="3.4" fill="#008eff"/>
<rect x="168.2" y="592.7" width="5" height="3.4" fill="#0083ff"/>
<rect x="168.2" y="595.5" width="5" height="3.4" fill="#007cff"/>
<rect x="168.2" y="598.2" width="5" height="3.4" fill="#0078ff"/>
<rect x="168.2" y="601" width="5" height="3.4" fill="#0071ff"/>
<rect x="168.2" y="603.8" width="5" height="3.4" fill="#006dff"/>
<rect x="168.2" y="606.6" width="5" height="3.4" fill="#006aff"/>
<rect x="168.2" y="609.3" width="5" height="3.4" fill="#0062ff"/>
<rect x="168.2" y="612.1" width="5" height="3.4" fill="#005bff"/>
<rect x="168.2" y="614.9" width="5" height="3.4" fill="#0050ff"/>
<rect x="168.2" y="617.6" width="5" height="3.4" fill="#0049ff"/>
<rect x="168.2" y="620.4" width="5" height="3.4" fill="#003eff"/>
<rect x="168.2" y="623.2" width="5" height="3.4" fill="#0037ff"/>
<rect x="168.2" y="626" width="5" height="3.4" fill="#002cff"/>
<rect x="168.2" y="628.7" width="5" height="3.4" fill="#0024ff"/>
<rect x="168.2" y="631.5" width="5" height="3.4" fill="#0021ff"/>
<rect x="168.2" y="634.3" width="5" height="3.4" fill="#001dff"/>
<rect x="168.2" y="637" width="5" height="3.4" fill="#0019ff"/>
<rect x="168.2" y="639.8" width="5" height="3.4" fill="#0016ff"/>
<rect x="168.2" y="642.6" width="5" height="3.4" fill="#0012ff"/>
<rect x="168.2" y="645.4" width="5" height="3.4" fill="#000fff"/>
<rect x="172.6" y="545.6" width="5" height="3.4" fill="#d4ff23"/>
<rect x="172.6" y="548.4" width="5" height="3.4" fill="#c5ff32"/>
<rect x="172.6" y="551.1" width="5" height="3.4" fill="#b3ff44"/>
<rect x="172.6" y="553.9" width="5" height="3.4" fill="#a5ff52"/>
<rect x="172.6" y="556.7" width="5" height="3.4" fill="#96ff61"/>
<rect x="172.6" y="559.5" width="5" height="3.4" fill="#8aff6d"/>
<rect x="172.6" y="562.2" width="5" height="3.4" fill="#7eff78"/>
<rect x="172.6" y="565" width="5" height="3.4" fill="#73ff84"/>
<rect x="172.6" y="567.8" width="5" height="3.4" fill="#6aff8d"/>
<rect x="172.6" y="570.5" width="5" height="3.4" fill="#5eff99"/>
<rect x="172.6" y="573.3" width="5" height="3.4" fill="#52ffa5"/>
<rect x="172.6" y="576.1" width="5" height="3.4" fill="#49ffad"/>
<rect x="172.6" y="578.9" width="5" height="3.4" fill="#3effb9"/>
<rect x="172.6" y="581.6" width="5" height="3.4" fill="#35ffc2"/>
<rect x="172.6" y="584.4" width="5" height="3.4" fill="#00b2ff"/>
<rect x="172.6" y="587.2" width="5" height="3.4" fill="#009dff"/>
<rect x="172.6" y="589.9" width="5" height="3.4" fill="#008aff"/>
<rect x="172.6" y="592.7" width="5" height="3.4" fill="#0083ff"/>
<rect x="172.6" y="595.5" width="5" height="3.4" fill="#007cff"/>
<rect x="172.6" y="598.2" width="5" height="3.4" fill="#0075ff"/>
<rect x="172.6" y="601" width="5" height="3.4" fill="#0071ff"/>
<rect x="172.6" y="603.8" width="5" height="3.4" fill="#006dff"/>
<rect x="172.6" y="606.6" width="5" height="3.4" fill="#006aff"/>
<rect x="172.6" y="609.3" width="5" height="3.4" fill="#0066ff"/>
<rect x="172.6" y="612.1" width="5" height="3.4" fill="#0062ff"/>
<rect x="172.6" y="614.9" width="5" height="3.4" fill="#005fff"/>
<rect x="172.6" y="617.6" width="5" height="3.4" fill="#005bff"/>
<rect x="172.6" y="620.4" width="5" height="3.4" fill="#0050ff"/>
<rect x="172.6" y="623.2" width="5" height="3.4" fill="#0049ff"/>
<rect x="172.6" y="626" width="5" height="3.4" fill="#0042ff"/>
<rect x="172.6" y="628.7" width="5" height="3.4" fill="#0037ff"/>
<rect x="172.6" y="631.5" width="5" height="3.4" fill="#002fff"/>
<rect x="172.6" y="634.3" width="5" height="3.4" fill="#002cff"/>
<rect x="172.6" y="637" width="5" height="3.4" fill="#0024ff"/>
<rect x="172.6" y="639.8" width="5" height="3.4" fill="#001dff"/>
<rect x="172.6" y="642.6" width="5" height="3.4" fill="#0019ff"/>
<rect x="172.6" y="645.4" width="5" height="3.4" fill="#0012ff"/>
<rect x="177" y="545.6" width="5" height="3.4" fill="#ceff29"/>
<rect x="177" y="548.4" width="5" height="3.4" fill="#b9ff3e"/>
<rect x="177" y="551.1" width="5" height="3.4" fill="#a7ff4f"/>
<rect x="177" y="553.9" width="5" height="3.4" fill="#93ff64"/>
<rect x="177" y="556.7" width="5" height="3.4" fill="#81ff76"/>
<rect x="177" y="559.5" width="5" height="3.4" fill="#73ff84"/>
<rect x="177" y="562.2" width="5" height="3.4" fill="#61ff96"/>
<rect x="177" y="565" width="5" height="3.4" fill="#52ffa5"/>
<rect x="177" y="567.8" width="5" height="3.4" fill="#44ffb3"/>
<rect x="177" y="570.5" width="5" height="3.4" fill="#35ffc2"/>
<rect x="177" y="573.3" width="5" height="3.4" fill="#26ffd1"/>
<rect x="177" y="576.1" width="5" height="3.4" fill="#00d0ff"/>
<rect x="177" y="578.9" width="5" height="3.4" fill="#00b2ff"/>
<rect x="177" y="581.6" width="5" height="3.4" fill="#0099ff"/>
<rect x="177" y="584.4" width="5" height="3.4" fill="#0087ff"/>
<rect x="177" y="587.2" width="5" height="3.4" fill="#007cff"/>
<rect x="177" y="589.9" width="5" height="3.4" fill="#0075ff"/>
<rect x="177" y="592.7" width="5" height="3.4" fill="#006dff"/>
<rect x="177" y="595.5" width="5" height="3.4" fill="#006aff"/>
<rect x="177" y="598.2" width="5" height="3.4" fill="#0062ff"/>
<rect x="177" y="601" width="5" height="3.4" fill="#005fff"/>
<rect x="177" y="603.8" width="5" height="3.4" fill="#005bff"/>
<rect x="177" y="606.6" width="5" height="3.4" fill="#0054ff"/>
<rect x="177" y="609.3" width="5" height="3.4" fill="#0050ff"/>
<rect x="177" y="612.1" width="5" height="3.4" fill="#004dff"/>
<rect x="177" y="614.9" width="5" height="3.4" fill="#0045ff"/>
<rect x="177" y="617.6" width="5" height="3.4" fill="#003aff"/>
<rect x="177" y="620.4" width="5" height="3.4" fill="#0033ff"/>
<rect x="177" y="623.2" width="5" height="3.4" fill="#002fff"/>
<rect x="177" y="626" width="5" height="3.4" fill="#0028ff"/>
<rect x="177" y="628.7" width="5" height="3.4" fill="#0021ff"/>
<rect x="177" y="631.5" width="5" height="3.4" fill="#001dff"/>
<rect x="177" y="634.3" width="5" height="3.4" fill="#0016ff"/>
<rect x="177" y="637" width="5" height="3.4" fill="#0012ff"/>
<rect x="177" y="639.8" width="5" height="3.4" fill="#000fff"/>
<rect x="177" y="642.6" width="5" height="6.1" fill="#000bff"/>
<rect x="181.3" y="545.6" width="5" height="3.4" fill="#ceff29"/>
<rect x="181.3" y="548.4" width="5" height="3.4" fill="#b3ff44"/>
<rect x="181.3" y="551.1" width="5" height="3.4" fill="#9cff5b"/>
<rect x="181.3" y="553.9" width="5" height="3.4" fill="#81ff76"/>
<rect x="181.3" y="556.7" width="5" height="3.4" fill="#6dff8a"/>
<rect x="181.3" y="559.5" width="5" height="3.4" fill="#58ff9f"/>
<rect x="181.3" y="562.2" width="5" height="3.4" fill="#44ffb3"/>
<rect x="181.3" y="565" width="5" height="3.4" fill="#2fffc8"/>
<rect x="181.3" y="567.8" width="5" height="3.4" fill="#1affdc"/>
<rect x="181.3" y="570.5" width="5" height="3.4" fill="#00e5f7"/>
<rect x="181.3" y="573.3" width="5" height="3.4" fill="#00c8ff"/>
<rect x="181.3" y="576.1" width="5" height="3.4" fill="#00afff"/>
<rect x="181.3" y="578.9" width="5" height="3.4" fill="#0095ff"/>
<rect x="181.3" y="581.6" width="5" height="3.4" fill="#0083ff"/>
<rect x="181.3" y="584.4" width="5" height="3.4" fill="#0078ff"/>
<rect x="181.3" y="587.2" width="5" height="3.4" fill="#0071ff"/>
<rect x="181.3" y="589.9" width="5" height="3.4" fill="#006aff"/>
<rect x="181.3" y="592.7" width="5" height="3.4" fill="#0062ff"/>
<rect x="181.3" y="595.5" width="5" height="3.4" fill="#005bff"/>
<rect x="181.3" y="598.2" width="5" height="3.4" fill="#0054ff"/>
<rect x="181.3" y="601" width="5" height="3.4" fill="#004dff"/>
<rect x="181.3" y="603.8" width="5" height="3.4" fill="#0049ff"/>
<rect x="181.3" y="606.6" width="5" height="3.4" fill="#0042ff"/>
<rect x="181.3" y="609.3" width="5" height="3.4" fill="#003eff"/>
<rect x="181.3" y="612.1" width="5" height="3.4" fill="#0037ff"/>
<rect x="181.3" y="614.9" width="5" height="3.4" fill="#002fff"/>
<rect x="181.3" y="617.6" width="5" height="3.4" fill="#0028ff"/>
<rect x="181.3" y="620.4" width="5" height="3.4" fill="#0024ff"/>
<rect x="181.3" y="623.2" width="5" height="3.4" fill="#0021ff"/>
<rect x="181.3" y="626" width="5" height="3.4" fill="#0019ff"/>
<rect x="181.3" y="628.7" width="5" height="6.1" fill="#0016ff"/>
<rect x="181.3" y="634.3" width="5" height="3.4" fill="#0012ff"/>
<rect x="181.3" y="637" width="5" height="3.4" fill="#000fff"/>
<rect x="181.3" y="639.8" width="5" height="6.1" fill="#000bff"/>
<rect x="181.3" y="645.4" width="5" height="3.4" fill="#0007ff"/>
<rect x="185.7" y="545.6" width="5" height="3.4" fill="#ceff29"/>
<rect x="185.7" y="548.4" width="5" height="3.4" fill="#b6ff41"/>
<rect x="185.7" y="551.1" width="5" height="3.4" fill="#9cff5b"/>
<rect x="185.7" y="553.9" width="5" height="3.4" fill="#81ff76"/>
<rect x="185.7" y="556.7" width="5" height="3.4" fill="#6dff8a"/>
<rect x="185.7" y="559.5" width="5" height="3.4" fill="#5bff9c"/>
<rect x="185.7" y="562.2" width="5" height="3.4" fill="#47ffb0"/>
<rect x="185.7" y="565" width="5" height="3.4" fill="#32ffc5"/>
<rect x="185.7" y="567.8" width="5" height="3.4" fill="#1dffd9"/>
<rect x="185.7" y="570.5" width="5" height="3.4" fill="#06edf1"/>
<rect x="185.7" y="573.3" width="5" height="3.4" fill="#00d0ff"/>
<rect x="185.7" y="576.1" width="5" height="3.4" fill="#00b2ff"/>
<rect x="185.7" y="578.9" width="5" height="3.4" fill="#0099ff"/>
<rect x="185.7" y="581.6" width="5" height="3.4" fill="#0087ff"/>
<rect x="185.7" y="584.4" width="5" height="3.4" fill="#007cff"/>
<rect x="185.7" y="587.2" width="5" height="3.4" fill="#0071ff"/>
<rect x="185.7" y="589.9" width="5" height="3.4" fill="#006aff"/>
<rect x="185.7" y="592.7" width="5" height="3.4" fill="#0062ff"/>
<rect x="185.7" y="595.5" width="5" height="3.4" fill="#005bff"/>
<rect x="185.7" y="598.2" width="5" height="3.4" fill="#0054ff"/>
<rect x="185.7" y="601" width="5" height="3.4" fill="#0050ff"/>
<rect x="185.7" y="603.8" width="5" height="3.4" fill="#0049ff"/>
<rect x="185.7" y="606.6" width="5" height="3.4" fill="#0045ff"/>
<rect x="185.7" y="609.3" width="5" height="3.4" fill="#003eff"/>
<rect x="185.7" y="612.1" width="5" height="3.4" fill="#0037ff"/>
<rect x="185.7" y="614.9" width="5" height="3.4" fill="#002fff"/>
<rect x="185.7" y="617.6" width="5" height="3.4" fill="#002cff"/>
<rect x="185.7" y="620.4" width="5" height="3.4" fill="#0024ff"/>
<rect x="185.7" y="623.2" width="5" height="3.4" fill="#0021ff"/>
<rect x="185.7" y="626" width="5" height="3.4" fill="#001dff"/>
<rect x="185.7" y="628.7" width="5" height="3.4" fill="#0019ff"/>
<rect x="185.7" y="631.5" width="5" height="3.4" fill="#0016ff"/>
<rect x="185.7" y="634.3" width="5" height="3.4" fill="#0012ff"/>
<rect x="185.7" y="637" width="5" height="3.4" fill="#000fff"/>
<rect x="185.7" y="639.8" width="5" height="6.1" fill="#000bff"/>
<rect x="185.7" y="645.4" width="5" height="3.4" fill="#0007ff"/>
<rect x="190.1" y="545.6" width="5" height="3.4" fill="#ceff29"/>
<rect x="190.1" y="548.4" width="5" height="3.4" fill="#bfff38"/>
<rect x="190.1" y="551.1" width="5" height="3.4" fill="#b0ff47"/>
<rect x="190.1" y="553.9" width="5" height="3.4" fill="#a2ff55"/>
<rect x="190.1" y="556.7" width="5" height="3.4" fill="#93ff64"/>
<rect x="190.1" y="559.5" width="5" height="3.4" fill="#87ff70"/>
<rect x="190.1" y="562.2" width="5" height="3.4" fill="#7bff7b"/>
<rect x="190.1" y="565" width="5" height="3.4" fill="#70ff87"/>
<rect x="190.1" y="567.8" width="5" height="3.4" fill="#64ff93"/>
<rect x="190.1" y="570.5" width="5" height="3.4" fill="#5bff9c"/>
<rect x="190.1" y="573.3" width="5" height="3.4" fill="#4fffa7"/>
<rect x="190.1" y="576.1" width="5" height="3.4" fill="#44ffb3"/>
<rect x="190.1" y="578.9" width="5" height="3.4" fill="#38ffbf"/>
<rect x="190.1" y="581.6" width="5" height="3.4" fill="#00bdff"/>
<rect x="190.1" y="584.4" width="5" height="3.4" fill="#00a4ff"/>
<rect x="190.1" y="587.2" width="5" height="3.4" fill="#008eff"/>
<rect x="190.1" y="589.9" width="5" height="3.4" fill="#0083ff"/>
<rect x="190.1" y="592.7" width="5" height="3.4" fill="#0078ff"/>
<rect x="190.1" y="595.5" width="5" height="3.4" fill="#0071ff"/>
<rect x="190.1" y="598.2" width="5" height="3.4" fill="#006aff"/>
<rect x="190.1" y="601" width="5" height="3.4" fill="#0062ff"/>
<rect x="190.1" y="603.8" width="5" height="3.4" fill="#005fff"/>
<rect x="190.1" y="606.6" width="5" height="3.4" fill="#0057ff"/>
<rect x="190.1" y="609.3" width="5" height="3.4" fill="#0054ff"/>
<rect x="190.1" y="612.1" width="5" height="3.4" fill="#004dff"/>
<rect x="190.1" y="614.9" width="5" height="3.4" fill="#0045ff"/>
<rect x="190.1" y="617.6" width="5" height="3.4" fill="#003eff"/>
<rect x="190.1" y="620.4" width="5" height="3.4" fill="#0037ff"/>
<rect x="190.1" y="623.2" width="5" height="3.4" fill="#002fff"/>
<rect x="190.1" y="626" width="5" height="3.4" fill="#0028ff"/>
<rect x="190.1" y="628.7" width="5" height="3.4" fill="#0021ff"/>
<rect x="190.1" y="631.5" width="5" height="3.4" fill="#001dff"/>
<rect x="190.1" y="634.3" width="5" height="3.4" fill="#0019ff"/>
<rect x="190.1" y="637" width="5" height="3.4" fill="#0016ff"/>
<rect x="190.1" y="639.8" width="5" height="3.4" fill="#0012ff"/>
<rect x="190.1" y="642.6" width="5" height="6.1" fill="#000fff"/>
<rect x="194.5" y="545.6" width="5" height="3.4" fill="#ceff29"/>
<rect x="194.5" y="548.4" width="5" height="3.4" fill="#bfff38"/>
<rect x="194.5" y="551.1" width="5" height="3.4" fill="#b0ff47"/>
<rect x="194.5" y="553.9" width="5" height="3.4" fill="#a2ff55"/>
<rect x="194.5" y="556.7" width="5" height="3.4" fill="#93ff64"/>
<rect x="194.5" y="559.5" width="5" height="3.4" fill="#87ff70"/>
<rect x="194.5" y="562.2" width="5" height="3.4" fill="#7bff7b"/>
<rect x="194.5" y="565" width="5" height="3.4" fill="#70ff87"/>
<rect x="194.5" y="567.8" width="5" height="3.4" fill="#64ff93"/>
<rect x="194.5" y="570.5" width="5" height="3.4" fill="#5bff9c"/>
<rect x="194.5" y="573.3" width="5" height="3.4" fill="#4fffa7"/>
<rect x="194.5" y="576.1" width="5" height="3.4" fill="#44ffb3"/>
<rect x="194.5" y="578.9" width="5" height="3.4" fill="#38ffbf"/>
<rect x="194.5" y="581.6" width="5" height="3.4" fill="#00bdff"/>
<rect x="194.5" y="584.4" width="5" height="3.4" fill="#00a4ff"/>
<rect x="194.5" y="587.2" width="5" height="3.4" fill="#008eff"/>
<rect x="194.5" y="589.9" width="5" height="3.4" fill="#0080ff"/>
<rect x="194.5" y="592.7" width="5" height="3.4" fill="#0075ff"/>
<rect x="194.5" y="595.5" width="5" height="3.4" fill="#006dff"/>
<rect x="194.5" y="598.2" width="5" height="3.4" fill="#0066ff"/>
<rect x="194.5" y="601" width="5" height="3.4" fill="#005fff"/>
<rect x="194.5" y="603.8" width="5" height="3.4" fill="#0057ff"/>
<rect x="194.5" y="606.6" width="5" height="3.4" fill="#0050ff"/>
<rect x="194.5" y="609.3" width="5" height="3.4" fill="#004dff"/>
<rect x="194.5" y="612.1" width="5" height="3.4" fill="#0045ff"/>
<rect x="194.5" y="614.9" width="5" height="3.4" fill="#0042ff"/>
<rect x="194.5" y="617.6" width="5" height="3.4" fill="#003aff"/>
<rect x="194.5" y="620.4" width="5" height="3.4" fill="#0033ff"/>
<rect x="194.5" y="623.2" width="5" height="3.4" fill="#002cff"/>
<rect x="194.5" y="626" width="5" height="3.4" fill="#0028ff"/>
<rect x="194.5" y="628.7" width="5" height="3.4" fill="#0021ff"/>
<rect x="194.5" y="631.5" width="5" height="3.4" fill="#001dff"/>
<rect x="194.5" y="634.3" width="5" height="3.4" fill="#0019ff"/>
<rect x="194.5" y="637" width="5" height="3.4" fill="#0016ff"/>
<rect x="194.5" y="639.8" width="5" height="3.4" fill="#0012ff"/>
<rect x="194.5" y="642.6" width="5" height="6.1" fill="#000fff"/>
<rect x="198.8" y="545.6" width="5" height="3.4" fill="#ceff29"/>
<rect x="198.8" y="548.4" width="5" height="3.4" fill="#bcff3b"/>
<rect x="198.8" y="551.1" width="5" height="3.4" fill="#a7ff4f"/>
<rect x="198.8" y="553.9" width="5" height="3.4" fill="#96ff61"/>
<rect x="198.8" y="556.7" width="5" height="3.4" fill="#81ff76"/>
<rect x="198.8" y="559.5" width="5" height="3.4" fill="#73ff84"/>
<rect x="198.8" y="562.2" width="5" height="3.4" fill="#67ff90"/>
<rect x="198.8" y="565" width="5" height="3.4" fill="#58ff9f"/>
<rect x="198.8" y="567.8" width="5" height="3.4" fill="#49ffad"/>
<rect x="198.8" y="570.5" width="5" height="3.4" fill="#3bffbc"/>
<rect x="198.8" y="573.3" width="5" height="3.4" fill="#2cffcb"/>
<rect x="198.8" y="576.1" width="5" height="3.4" fill="#1affdc"/>
<rect x="198.8" y="578.9" width="5" height="3.4" fill="#00bdff"/>
<rect x="198.8" y="581.6" width="5" height="3.4" fill="#00a4ff"/>
<rect x="198.8" y="584.4" width="5" height="3.4" fill="#008eff"/>
<rect x="198.8" y="587.2" width="5" height="3.4" fill="#0080ff"/>
<rect x="198.8" y="589.9" width="5" height="3.4" fill="#0075ff"/>
<rect x="198.8" y="592.7" width="5" height="3.4" fill="#006dff"/>
<rect x="198.8" y="595.5" width="5" height="3.4" fill="#0066ff"/>
<rect x="198.8" y="598.2" width="5" height="3.4" fill="#005fff"/>
<rect x="198.8" y="601" width="5" height="3.4" fill="#0057ff"/>
<rect x="198.8" y="603.8" width="5" height="3.4" fill="#0050ff"/>
<rect x="198.8" y="606.6" width="5" height="3.4" fill="#004dff"/>
<rect x="198.8" y="609.3" width="5" height="3.4" fill="#0045ff"/>
<rect x="198.8" y="612.1" width="5" height="3.4" fill="#0042ff"/>
<rect x="198.8" y="614.9" width="5" height="3.4" fill="#003aff"/>
<rect x="198.8" y="617.6" width="5" height="3.4" fill="#0033ff"/>
<rect x="198.8" y="620.4" width="5" height="3.4" fill="#002cff"/>
<rect x="198.8" y="623.2" width="5" height="3.4" fill="#0028ff"/>
<rect x="198.8" y="626" width="5" height="3.4" fill="#0021ff"/>
<rect x="198.8" y="628.7" width="5" height="3.4" fill="#001dff"/>
<rect x="198.8" y="631.5" width="5" height="3.4" fill="#0019ff"/>
<rect x="198.8" y="634.3" width="5" height="3.4" fill="#0016ff"/>
<rect x="198.8" y="637" width="5" height="3.4" fill="#0012ff"/>
<rect x="198.8" y="639.8" width="5" height="6.1" fill="#000fff"/>
<rect x="198.8" y="645.4" width="5" height="3.4" fill="#000bff"/>
<rect x="203.2" y="545.6" width="5" height="3.4" fill="#ceff29"/>
<rect x="203.2" y="548.4" width="5" height="3.4" fill="#b3ff44"/>
<rect x="203.2" y="551.1" width="5" height="3.4" fill="#9cff5b"/>
<rect x="203.2" y="553.9" width="5" height="3.4" fill="#81ff76"/>
<rect x="203.2" y="556.7" width="5" height="3.4" fill="#6dff8a"/>
<rect x="203.2" y="559.5" width="5" height="3.4" fill="#58ff9f"/>
<rect x="203.2" y="562.2" width="5" height="3.4" fill="#44ffb3"/>
<rect x="203.2" y="565" width="5" height="3.4" fill="#2fffc8"/>
<rect x="203.2" y="567.8" width="5" height="3.4" fill="#18ffdf"/>
<rect x="203.2" y="570.5" width="5" height="3.4" fill="#00e5f7"/>
<rect x="203.2" y="573.3" width="5" height="3.4" fill="#00c8ff"/>
<rect x="203.2" y="576.1" width="5" height="3.4" fill="#00a8ff"/>
<rect x="203.2" y="578.9" width="5" height="3.4" fill="#0092ff"/>
<rect x="203.2" y="581.6" width="5" height="3.4" fill="#0080ff"/>
<rect x="203.2" y="584.4" width="5" height="3.4" fill="#0071ff"/>
<rect x="203.2" y="587.2" width="5" height="3.4" fill="#006aff"/>
<rect x="203.2" y="589.9" width="5" height="3.4" fill="#0062ff"/>
<rect x="203.2" y="592.7" width="5" height="3.4" fill="#005bff"/>
<rect x="203.2" y="595.5" width="5" height="3.4" fill="#0057ff"/>
<rect x="203.2" y="598.2" width="5" height="3.4" fill="#0054ff"/>
<rect x="203.2" y="601" width="5" height="3.4" fill="#004dff"/>
<rect x="203.2" y="603.8" width="5" height="3.4" fill="#0049ff"/>
<rect x="203.2" y="606.6" width="5" height="3.4" fill="#0042ff"/>
<rect x="203.2" y="609.3" width="5" height="3.4" fill="#003eff"/>
<rect x="203.2" y="612.1" width="5" height="3.4" fill="#0037ff"/>
<rect x="203.2" y="614.9" width="5" height="3.4" fill="#002fff"/>
<rect x="203.2" y="617.6" width="5" height="3.4" fill="#0028ff"/>
<rect x="203.2" y="620.4" width="5" height="3.4" fill="#0024ff"/>
<rect x="203.2" y="623.2" width="5" height="3.4" fill="#0021ff"/>
<rect x="203.2" y="626" width="5" height="3.4" fill="#0019ff"/>
<rect x="203.2" y="628.7" width="5" height="6.1" fill="#0016ff"/>
<rect x="203.2" y="634.3" width="5" height="3.4" fill="#0012ff"/>
<rect x="203.2" y="637" width="5" height="3.4" fill="#000fff"/>
<rect x="203.2" y="639.8" width="5" height="6.1" fill="#000bff"/>
<rect x="203.2" y="645.4" width="5" height="3.4" fill="#0007ff"/>
<rect x="207.6" y="545.6" width="5" height="3.4" fill="#ceff29"/>
<rect x="207.6" y="548.4" width="5" height="3.4" fill="#b6ff41"/>
<rect x="207.6" y="551.1" width="5" height="3.4" fill="#9cff5b"/>
<rect x="207.6" y="553.9" width="5" height="3.4" fill="#81ff76"/>
<rect x="207.6" y="556.7" width="5" height="3.4" fill="#6dff8a"/>
<rect x="207.6" y="559.5" width="5" height="3.4" fill="#5bff9c"/>
<rect x="207.6" y="562.2" width="5" height="3.4" fill="#47ffb0"/>
<rect x="207.6" y="565" width="5" height="3.4" fill="#32ffc5"/>
<rect x="207.6" y="567.8" width="5" height="3.4" fill="#1dffd9"/>
<rect x="207.6" y="570.5" width="5" height="3.4" fill="#06edf1"/>
<rect x="207.6" y="573.3" width="5" height="3.4" fill="#00d0ff"/>
<rect x="207.6" y="576.1" width="5" height="3.4" fill="#00b2ff"/>
<rect x="207.6" y="578.9" width="5" height="3.4" fill="#0095ff"/>
<rect x="207.6" y="581.6" width="5" height="3.4" fill="#0080ff"/>
<rect x="207.6" y="584.4" width="5" height="3.4" fill="#0075ff"/>
<rect x="207.6" y="587.2" width="5" height="3.4" fill="#006aff"/>
<rect x="207.6" y="589.9" width="5" height="3.4" fill="#005fff"/>
<rect x="207.6" y="592.7" width="5" height="3.4" fill="#0054ff"/>
<rect x="207.6" y="595.5" width="5" height="3.4" fill="#004dff"/>
<rect x="207.6" y="598.2" width="5" height="3.4" fill="#0049ff"/>
<rect x="207.6" y="601" width="5" height="3.4" fill="#0045ff"/>
<rect x="207.6" y="603.8" width="5" height="3.4" fill="#0042ff"/>
<rect x="207.6" y="606.6" width="5" height="3.4" fill="#003eff"/>
<rect x="207.6" y="609.3" width="5" height="3.4" fill="#0037ff"/>
<rect x="207.6" y="612.1" width="5" height="3.4" fill="#0033ff"/>
<rect x="207.6" y="614.9" width="5" height="3.4" fill="#002fff"/>
<rect x="207.6" y="617.6" width="5" height="3.4" fill="#002cff"/>
<rect x="207.6" y="620.4" width="5" height="3.4" fill="#0024ff"/>
<rect x="207.6" y="623.2" width="5" height="3.4" fill="#0021ff"/>
<rect x="207.6" y="626" width="5" height="3.4" fill="#001dff"/>
<rect x="207.6" y="628.7" width="5" height="3.4" fill="#0019ff"/>
<rect x="207.6" y="631.5" width="5" height="3.4" fill="#0016ff"/>
<rect x="207.6" y="634.3" width="5" height="3.4" fill="#0012ff"/>
<rect x="207.6" y="637" width="5" height="3.4" fill="#000fff"/>
<rect x="207.6" y="639.8" width="5" height="6.1" fill="#000bff"/>
<rect x="207.6" y="645.4" width="5" height="3.4" fill="#0007ff"/>
<rect x="212" y="545.6" width="5" height="3.4" fill="#d4ff23"/>
<rect x="212" y="548.4" width="5" height="3.4" fill="#b9ff3e"/>
<rect x="212" y="551.1" width="5" height="3.4" fill="#9cff5b"/>
<rect x="212" y="553.9" width="5" height="3.4" fill="#81ff76"/>
<rect x="212" y="556.7" width="5" height="3.4" fill="#6aff8d"/>
<rect x="212" y="559.5" width="5" height="3.4" fill="#55ffa2"/>
<rect x="212" y="562.2" width="5" height="3.4" fill="#41ffb6"/>
<rect x="212" y="565" width="5" height="3.4" fill="#2cffcb"/>
<rect x="212" y="567.8" width="5" height="3.4" fill="#15ffe2"/>
<rect x="212" y="570.5" width="5" height="3.4" fill="#00e2fa"/>
<rect x="212" y="573.3" width="5" height="3.4" fill="#00c5ff"/>
<rect x="212" y="576.1" width="5" height="3.4" fill="#00a8ff"/>
<rect x="212" y="578.9" width="5" height="3.4" fill="#008eff"/>
<rect x="212" y="581.6" width="5" height="3.4" fill="#007cff"/>
<rect x="212" y="584.4" width="5" height="3.4" fill="#006dff"/>
<rect x="212" y="587.2" width="5" height="3.4" fill="#0062ff"/>
<rect x="212" y="589.9" width="5" height="3.4" fill="#0057ff"/>
<rect x="212" y="592.7" width="5" height="3.4" fill="#004dff"/>
<rect x="212" y="595.5" width="5" height="6.1" fill="#0042ff"/>
<rect x="212" y="601" width="5" height="3.4" fill="#003eff"/>
<rect x="212" y="603.8" width="5" height="3.4" fill="#003aff"/>
<rect x="212" y="606.6" width="5" height="3.4" fill="#0037ff"/>
<rect x="212" y="609.3" width="5" height="3.4" fill="#0033ff"/>
<rect x="212" y="612.1" width="5" height="3.4" fill="#002fff"/>
<rect x="212" y="614.9" width="5" height="3.4" fill="#002cff"/>
<rect x="212" y="617.6" width="5" height="3.4" fill="#0028ff"/>
<rect x="212" y="620.4" width="5" height="3.4" fill="#0024ff"/>
<rect x="212" y="623.2" width="5" height="3.4" fill="#001dff"/>
<rect x="212" y="626" width="5" height="3.4" fill="#0019ff"/>
<rect x="212" y="628.7" width="5" height="3.4" fill="#0016ff"/>
<rect x="212" y="631.5" width="5" height="6.1" fill="#0012ff"/>
<rect x="212" y="637" width="5" height="3.4" fill="#000fff"/>
<rect x="212" y="639.8" width="5" height="6.1" fill="#000bff"/>
<rect x="212" y="645.4" width="5" height="3.4" fill="#0007ff"/>
<rect x="216.3" y="545.6" width="5" height="3.4" fill="#dfff18"/>
<rect x="216.3" y="548.4" width="5" height="3.4" fill="#c2ff35"/>
<rect x="216.3" y="551.1" width="5" height="3.4" fill="#a7ff4f"/>
<rect x="216.3" y="553.9" width="5" height="3.4" fill="#8dff6a"/>
<rect x="216.3" y="556.7" width="5" height="3.4" fill="#73ff84"/>
<rect x="216.3" y="559.5" width="5" height="3.4" fill="#61ff96"/>
<rect x="216.3" y="562.2" width="5" height="3.4" fill="#4cffaa"/>
<rect x="216.3" y="565" width="5" height="3.4" fill="#3bffbc"/>
<rect x="216.3" y="567.8" width="5" height="3.4" fill="#29ffce"/>
<rect x="216.3" y="570.5" width="5" height="3.4" fill="#12fbe5"/>
<rect x="216.3" y="573.3" width="5" height="3.4" fill="#00e2fa"/>
<rect x="216.3" y="576.1" width="5" height="3.4" fill="#00c1ff"/>
<rect x="216.3" y="578.9" width="5" height="3.4" fill="#00a4ff"/>
<rect x="216.3" y="581.6" width="5" height="3.4" fill="#008aff"/>
<rect x="216.3" y="584.4" width="5" height="3.4" fill="#0078ff"/>
<rect x="216.3" y="587.2" width="5" height="3.4" fill="#006aff"/>
<rect x="216.3" y="589.9" width="5" height="3.4" fill="#005fff"/>
<rect x="216.3" y="592.7" width="5" height="3.4" fill="#0054ff"/>
<rect x="216.3" y="595.5" width="5" height="3.4" fill="#0049ff"/>
<rect x="216.3" y="598.2" width="5" height="3.4" fill="#0045ff"/>
<rect x="216.3" y="601" width="5" height="3.4" fill="#0042ff"/>
<rect x="216.3" y="603.8" width="5" height="6.1" fill="#003eff"/>
<rect x="216.3" y="609.3" width="5" height="3.4" fill="#003aff"/>
<rect x="216.3" y="612.1" width="5" height="3.4" fill="#0037ff"/>
<rect x="216.3" y="614.9" width="5" height="6.1" fill="#002fff"/>
<rect x="216.3" y="620.4" width="5" height="3.4" fill="#0028ff"/>
<rect x="216.3" y="623.2" width="5" height="3.4" fill="#0024ff"/>
<rect x="216.3" y="626" width="5" height="3.4" fill="#001dff"/>
<rect x="216.3" y="628.7" width="5" height="3.4" fill="#0019ff"/>
<rect x="216.3" y="631.5" width="5" height="3.4" fill="#0016ff"/>
<rect x="216.3" y="634.3" width="5" height="6.1" fill="#0012ff"/>
<rect x="216.3" y="639.8" width="5" height="3.4" fill="#000fff"/>
<rect x="216.3" y="642.6" width="5" height="6.1" fill="#000bff"/>
<rect x="220.7" y="545.6" width="4.4" height="3.4" fill="#e5ff12"/>
<rect x="220.7" y="548.4" width="4.4" height="3.4" fill="#cbff2c"/>
<rect x="220.7" y="551.1" width="4.4" height="3.4" fill="#b0ff47"/>
<rect x="220.7" y="553.9" width="4.4" height="3.4" fill="#93ff64"/>
<rect x="220.7" y="556.7" width="4.4" height="3.4" fill="#7bff7b"/>
<rect x="220.7" y="559.5" width="4.4" height="3.4" fill="#6aff8d"/>
<rect x="220.7" y="562.2" width="4.4" height="3.4" fill="#5bff9c"/>
<rect x="220.7" y="565" width="4.4" height="3.4" fill="#49ffad"/>
<rect x="220.7" y="567.8" width="4.4" height="3.4" fill="#3bffbc"/>
<rect x="220.7" y="570.5" width="4.4" height="3.4" fill="#29ffce"/>
<rect x="220.7" y="573.3" width="4.4" height="3.4" fill="#15ffe2"/>
<rect x="220.7" y="576.1" width="4.4" height="3.4" fill="#00e5f7"/>
<rect x="220.7" y="578.9" width="4.4" height="3.4" fill="#00c5ff"/>
<rect x="220.7" y="581.6" width="4.4" height="3.4" fill="#00a4ff"/>
<rect x="220.7" y="584.4" width="4.4" height="3.4" fill="#008aff"/>
<rect x="220.7" y="587.2" width="4.4" height="3.4" fill="#0078ff"/>
<rect x="220.7" y="589.9" width="4.4" height="3.4" fill="#006aff"/>
<rect x="220.7" y="592.7" width="4.4" height="3.4" fill="#005bff"/>
<rect x="220.7" y="595.5" width="4.4" height="3.4" fill="#0054ff"/>
<rect x="220.7" y="598.2" width="4.4" height="3.4" fill="#004dff"/>
<rect x="220.7" y="601" width="4.4" height="3.4" fill="#0049ff"/>
<rect x="220.7" y="603.8" width="4.4" height="3.4" fill="#0045ff"/>
<rect x="220.7" y="606.6" width="4.4" height="6.1" fill="#0042ff"/>
<rect x="220.7" y="612.1" width="4.4" height="3.4" fill="#003eff"/>
<rect x="220.7" y="614.9" width="4.4" height="3.4" fill="#003aff"/>
<rect x="220.7" y="617.6" width="4.4" height="3.4" fill="#0037ff"/>
<rect x="220.7" y="620.4" width="4.4" height="3.4" fill="#002fff"/>
<rect x="220.7" y="623.2" width="4.4" height="3.4" fill="#0028ff"/>
<rect x="220.7" y="626" width="4.4" height="3.4" fill="#0024ff"/>
<rect x="220.7" y="628.7" width="4.4" height="3.4" fill="#0021ff"/>
<rect x="220.7" y="631.5" width="4.4" height="3.4" fill="#0019ff"/>
<rect x="220.7" y="634.3" width="4.4" height="6.1" fill="#0016ff"/>
<rect x="220.7" y="639.8" width="4.4" height="3.4" fill="#0012ff"/>
<rect x="220.7" y="642.6" width="4.4" height="3.4" fill="#000fff"/>
<rect x="220.7" y="645.4" width="4.4" height="3.4" fill="#000bff"/>
<rect x="168.2" y="648.1" width="56.9" height="8.9" fill="#0007ff"/>
<rect x="168.2" y="656.4" width="56.9" height="6.1" fill="#0004ff"/>
<rect x="168.2" y="662" width="56.9" height="73.5" fill="#0000ff"/>
<rect x="256.6" y="548.4" width="21.8" height="187.1" fill="#0000ff"/>
<rect x="256" y="545.6" width="23" height="3.4" fill="#ceff29"/>
<rect x="256" y="548.4" width="23" height="3.4" fill="#b3ff44"/>
<rect x="256" y="551.1" width="23" height="3.4" fill="#99ff5e"/>
<rect x="256" y="553.9" width="23" height="3.4" fill="#7eff78"/>
<rect x="256" y="556.7" width="23" height="3.4" fill="#67ff90"/>
<rect x="256" y="559.5" width="23" height="3.4" fill="#52ffa5"/>
<rect x="256" y="562.2" width="23" height="3.4" fill="#3effb9"/>
<rect x="256" y="565" width="23" height="3.4" fill="#29ffce"/>
<rect x="256" y="567.8" width="23" height="3.4" fill="#0ff8e8"/>
<rect x="256" y="570.5" width="23" height="3.4" fill="#00dbff"/>
<rect x="256" y="573.3" width="23" height="3.4" fill="#00bdff"/>
<rect x="256" y="576.1" width="23" height="3.4" fill="#00a0ff"/>
<rect x="256" y="578.9" width="23" height="3.4" fill="#008aff"/>
<rect x="256" y="581.6" width="23" height="3.4" fill="#007cff"/>
<rect x="256" y="584.4" width="23" height="3.4" fill="#0071ff"/>
<rect x="256" y="587.2" width="23" height="3.4" fill="#0066ff"/>
<rect x="256" y="589.9" width="23" height="3.4" fill="#005fff"/>
<rect x="256" y="592.7" width="23" height="3.4" fill="#0054ff"/>
<rect x="256" y="595.5" width="23" height="3.4" fill="#004dff"/>
<rect x="256" y="598.2" width="23" height="3.4" fill="#0045ff"/>
<rect x="256" y="601" width="23" height="3.4" fill="#003eff"/>
<rect x="256" y="603.8" width="23" height="3.4" fill="#0037ff"/>
<rect x="256" y="606.6" width="23" height="3.4" fill="#002fff"/>
<rect x="256" y="609.3" width="23" height="3.4" fill="#0028ff"/>
<rect x="256" y="612.1" width="23" height="3.4" fill="#0021ff"/>
<rect x="256" y="614.9" width="23" height="3.4" fill="#001dff"/>
<rect x="256" y="617.6" width="23" height="3.4" fill="#0016ff"/>
<rect x="256" y="620.4" width="23" height="3.4" fill="#0012ff"/>
<rect x="256" y="623.2" width="23" height="3.4" fill="#0012ff"/>
<rect x="256" y="626" width="23" height="3.4" fill="#000fff"/>
<rect x="256" y="628.7" width="23" height="6.1" fill="#000bff"/>
<rect x="256" y="634.3" width="23" height="8.9" fill="#0007ff"/>
<rect x="256" y="642.6" width="23" height="17.2" fill="#0004ff"/>
<rect x="256" y="659.2" width="23" height="76.3" fill="#0000ff"/>
<rect x="305.5" y="548.4" width="20.7" height="187.1" fill="#0000ff"/>
<rect x="304.9" y="545.6" width="21.9" height="3.4" fill="#b6ff41"/>
<rect x="304.9" y="548.4" width="21.9" height="3.4" fill="#9fff58"/>
<rect x="304.9" y="551.1" width="21.9" height="3.4" fill="#87ff70"/>
<rect x="304.9" y="553.9" width="21.9" height="3.4" fill="#73ff84"/>
<rect x="304.9" y="556.7" width="21.9" height="3.4" fill="#61ff96"/>
<rect x="304.9" y="559.5" width="21.9" height="3.4" fill="#49ffad"/>
<rect x="304.9" y="562.2" width="21.9" height="3.4" fill="#32ffc5"/>
<rect x="304.9" y="565" width="21.9" height="3.4" fill="#1affdc"/>
<rect x="304.9" y="567.8" width="21.9" height="3.4" fill="#00e5f7"/>
<rect x="304.9" y="570.5" width="21.9" height="3.4" fill="#00c8ff"/>
<rect x="304.9" y="573.3" width="21.9" height="3.4" fill="#00abff"/>
<rect x="304.9" y="576.1" width="21.9" height="3.4" fill="#0092ff"/>
<rect x="304.9" y="578.9" width="21.9" height="3.4" fill="#0080ff"/>
<rect x="304.9" y="581.6" width="21.9" height="3.4" fill="#0075ff"/>
<rect x="304.9" y="584.4" width="21.9" height="3.4" fill="#006aff"/>
<rect x="304.9" y="587.2" width="21.9" height="3.4" fill="#005fff"/>
<rect x="304.9" y="589.9" width="21.9" height="3.4" fill="#0057ff"/>
<rect x="304.9" y="592.7" width="21.9" height="3.4" fill="#0050ff"/>
<rect x="304.9" y="595.5" width="21.9" height="3.4" fill="#0045ff"/>
<rect x="304.9" y="598.2" width="21.9" height="3.4" fill="#003eff"/>
<rect x="304.9" y="601" width="21.9" height="3.4" fill="#0037ff"/>
<rect x="304.9" y="603.8" width="21.9" height="3.4" fill="#002fff"/>
<rect x="304.9" y="606.6" width="21.9" height="3.4" fill="#0028ff"/>
<rect x="304.9" y="609.3" width="21.9" height="3.4" fill="#0021ff"/>
<rect x="304.9" y="612.1" width="21.9" height="3.4" fill="#0019ff"/>
<rect x="304.9" y="614.9" width="21.9" height="3.4" fill="#0016ff"/>
<rect x="304.9" y="617.6" width="21.9" height="3.4" fill="#0012ff"/>
<rect x="304.9" y="620.4" width="21.9" height="3.4" fill="#000fff"/>
<rect x="304.9" y="623.2" width="21.9" height="3.4" fill="#000bff"/>
<rect x="304.9" y="626" width="21.9" height="8.9" fill="#0007ff"/>
<rect x="304.9" y="634.3" width="21.9" height="22.8" fill="#0004ff"/>
<rect x="304.9" y="656.4" width="21.9" height="79.1" fill="#0000ff"/>
<rect x="359.8" y="548.4" width="20.5" height="187.1" fill="#0000ff"/>
<rect x="359.2" y="545.6" width="21.7" height="3.4" fill="#b0ff47"/>
<rect x="359.2" y="548.4" width="21.7" height="3.4" fill="#99ff5e"/>
<rect x="359.2" y="551.1" width="21.7" height="3.4" fill="#81ff76"/>
<rect x="359.2" y="553.9" width="21.7" height="3.4" fill="#6dff8a"/>
<rect x="359.2" y="556.7" width="21.7" height="3.4" fill="#5bff9c"/>
<rect x="359.2" y="559.5" width="21.7" height="3.4" fill="#41ffb6"/>
<rect x="359.2" y="562.2" width="21.7" height="3.4" fill="#29ffce"/>
<rect x="359.2" y="565" width="21.7" height="3.4" fill="#0cf4eb"/>
<rect x="359.2" y="567.8" width="21.7" height="3.4" fill="#00d7ff"/>
<rect x="359.2" y="570.5" width="21.7" height="3.4" fill="#00baff"/>
<rect x="359.2" y="573.3" width="21.7" height="3.4" fill="#009dff"/>
<rect x="359.2" y="576.1" width="21.7" height="3.4" fill="#008aff"/>
<rect x="359.2" y="578.9" width="21.7" height="3.4" fill="#007cff"/>
<rect x="359.2" y="581.6" width="21.7" height="3.4" fill="#006dff"/>
<rect x="359.2" y="584.4" width="21.7" height="3.4" fill="#0066ff"/>
<rect x="359.2" y="587.2" width="21.7" height="3.4" fill="#005bff"/>
<rect x="359.2" y="589.9" width="21.7" height="3.4" fill="#0054ff"/>
<rect x="359.2" y="592.7" width="21.7" height="3.4" fill="#004dff"/>
<rect x="359.2" y="595.5" width="21.7" height="3.4" fill="#0045ff"/>
<rect x="359.2" y="598.2" width="21.7" height="3.4" fill="#003eff"/>
<rect x="359.2" y="601" width="21.7" height="3.4" fill="#0037ff"/>
<rect x="359.2" y="603.8" width="21.7" height="3.4" fill="#002fff"/>
<rect x="359.2" y="606.6" width="21.7" height="3.4" fill="#0024ff"/>
<rect x="359.2" y="609.3" width="21.7" height="3.4" fill="#001dff"/>
<rect x="359.2" y="612.1" width="21.7" height="3.4" fill="#0016ff"/>
<rect x="359.2" y="614.9" width="21.7" height="3.4" fill="#0012ff"/>
<rect x="359.2" y="617.6" width="21.7" height="3.4" fill="#000fff"/>
<rect x="359.2" y="620.4" width="21.7" height="6.1" fill="#000bff"/>
<rect x="359.2" y="626" width="21.7" height="6.1" fill="#0007ff"/>
<rect x="359.2" y="631.5" width="21.7" height="22.8" fill="#0004ff"/>
<rect x="359.2" y="653.7" width="21.7" height="81.8" fill="#0000ff"/>
<rect x="407.7" y="548.4" width="21.7" height="187.1" fill="#0000ff"/>
<rect x="407.1" y="545.6" width="22.9" height="3.4" fill="#9fff58"/>
<rect x="407.1" y="548.4" width="22.9" height="3.4" fill="#87ff70"/>
<rect x="407.1" y="551.1" width="22.9" height="3.4" fill="#70ff87"/>
<rect x="407.1" y="553.9" width="22.9" height="3.4" fill="#5bff9c"/>
<rect x="407.1" y="556.7" width="22.9" height="3.4" fill="#49ffad"/>
<rect x="407.1" y="559.5" width="22.9" height="3.4" fill="#2fffc8"/>
<rect x="407.1" y="562.2" width="22.9" height="3.4" fill="#0cf4eb"/>
<rect x="407.1" y="565" width="22.9" height="3.4" fill="#00d7ff"/>
<rect x="407.1" y="567.8" width="22.9" height="3.4" fill="#00baff"/>
<rect x="407.1" y="570.5" width="22.9" height="3.4" fill="#009dff"/>
<rect x="407.1" y="573.3" width="22.9" height="3.4" fill="#008aff"/>
<rect x="407.1" y="576.1" width="22.9" height="3.4" fill="#007cff"/>
<rect x="407.1" y="578.9" width="22.9" height="3.4" fill="#0071ff"/>
<rect x="407.1" y="581.6" width="22.9" height="3.4" fill="#0066ff"/>
<rect x="407.1" y="584.4" width="22.9" height="3.4" fill="#005fff"/>
<rect x="407.1" y="587.2" width="22.9" height="3.4" fill="#0054ff"/>
<rect x="407.1" y="589.9" width="22.9" height="3.4" fill="#004dff"/>
<rect x="407.1" y="592.7" width="22.9" height="3.4" fill="#0045ff"/>
<rect x="407.1" y="595.5" width="22.9" height="3.4" fill="#003eff"/>
<rect x="407.1" y="598.2" width="22.9" height="3.4" fill="#0037ff"/>
<rect x="407.1" y="601" width="22.9" height="3.4" fill="#002fff"/>
<rect x="407.1" y="603.8" width="22.9" height="3.4" fill="#0028ff"/>
<rect x="407.1" y="606.6" width="22.9" height="3.4" fill="#001dff"/>
<rect x="407.1" y="609.3" width="22.9" height="3.4" fill="#0016ff"/>
<rect x="407.1" y="612.1" width="22.9" height="3.4" fill="#000fff"/>
<rect x="407.1" y="614.9" width="22.9" height="6.1" fill="#000bff"/>
<rect x="407.1" y="620.4" width="22.9" height="6.1" fill="#0007ff"/>
<rect x="407.1" y="626" width="22.9" height="8.9" fill="#0004ff"/>
<rect x="407.1" y="634.3" width="22.9" height="101.2" fill="#0000ff"/>
<rect x="443.7" y="548.4" width="82.5" height="187.1" fill="#0000ff"/>
<rect x="443.1" y="545.6" width="5" height="3.4" fill="#ceff29"/>
<rect x="443.1" y="548.4" width="5" height="3.4" fill="#b0ff47"/>
<rect x="443.1" y="551.1" width="5" height="3.4" fill="#93ff64"/>
<rect x="443.1" y="553.9" width="5" height="3.4" fill="#76ff81"/>
<rect x="443.1" y="556.7" width="5" height="3.4" fill="#5eff99"/>
<rect x="443.1" y="559.5" width="5" height="3.4" fill="#44ffb3"/>
<rect x="443.1" y="562.2" width="5" height="3.4" fill="#2cffcb"/>
<rect x="443.1" y="565" width="5" height="3.4" fill="#0ff8e8"/>
<rect x="443.1" y="567.8" width="5" height="3.4" fill="#00d3ff"/>
<rect x="443.1" y="570.5" width="5" height="3.4" fill="#00b2ff"/>
<rect x="443.1" y="573.3" width="5" height="3.4" fill="#0092ff"/>
<rect x="443.1" y="576.1" width="5" height="3.4" fill="#007cff"/>
<rect x="443.1" y="578.9" width="5" height="3.4" fill="#006aff"/>
<rect x="443.1" y="581.6" width="5" height="3.4" fill="#005bff"/>
<rect x="443.1" y="584.4" width="5" height="3.4" fill="#004dff"/>
<rect x="443.1" y="587.2" width="5" height="3.4" fill="#0042ff"/>
<rect x="443.1" y="589.9" width="5" height="3.4" fill="#0037ff"/>
<rect x="443.1" y="592.7" width="5" height="6.1" fill="#002cff"/>
<rect x="443.1" y="598.2" width="5" height="6.1" fill="#0028ff"/>
<rect x="443.1" y="603.8" width="5" height="3.4" fill="#0024ff"/>
<rect x="443.1" y="606.6" width="5" height="3.4" fill="#0021ff"/>
<rect x="443.1" y="609.3" width="5" height="6.1" fill="#001dff"/>
<rect x="443.1" y="614.9" width="5" height="11.7" fill="#0019ff"/>
<rect x="443.1" y="626" width="5" height="3.4" fill="#0016ff"/>
<rect x="443.1" y="628.7" width="5" height="3.4" fill="#0012ff"/>
<rect x="443.1" y="631.5" width="5" height="6.1" fill="#000fff"/>
<rect x="443.1" y="637" width="5" height="6.1" fill="#000bff"/>
<rect x="443.1" y="642.6" width="5" height="3.4" fill="#0007ff"/>
<rect x="447.5" y="545.6" width="5" height="3.4" fill="#ceff29"/>
<rect x="447.5" y="548.4" width="5" height="3.4" fill="#b0ff47"/>
<rect x="447.5" y="551.1" width="5" height="3.4" fill="#93ff64"/>
<rect x="447.5" y="553.9" width="5" height="3.4" fill="#78ff7e"/>
<rect x="447.5" y="556.7" width="5" height="3.4" fill="#5eff99"/>
<rect x="447.5" y="559.5" width="5" height="3.4" fill="#49ffad"/>
<rect x="447.5" y="562.2" width="5" height="3.4" fill="#32ffc5"/>
<rect x="447.5" y="565" width="5" height="3.4" fill="#15ffe2"/>
<rect x="447.5" y="567.8" width="5" height="3.4" fill="#00dbff"/>
<rect x="447.5" y="570.5" width="5" height="3.4" fill="#00baff"/>
<rect x="447.5" y="573.3" width="5" height="3.4" fill="#0099ff"/>
<rect x="447.5" y="576.1" width="5" height="3.4" fill="#0080ff"/>
<rect x="447.5" y="578.9" width="5" height="3.4" fill="#006aff"/>
<rect x="447.5" y="581.6" width="5" height="3.4" fill="#005bff"/>
<rect x="447.5" y="584.4" width="5" height="3.4" fill="#004dff"/>
<rect x="447.5" y="587.2" width="5" height="3.4" fill="#0042ff"/>
<rect x="447.5" y="589.9" width="5" height="3.4" fill="#0037ff"/>
<rect x="447.5" y="592.7" width="5" height="6.1" fill="#002cff"/>
<rect x="447.5" y="598.2" width="5" height="6.1" fill="#0028ff"/>
<rect x="447.5" y="603.8" width="5" height="6.1" fill="#0024ff"/>
<rect x="447.5" y="609.3" width="5" height="3.4" fill="#0021ff"/>
<rect x="447.5" y="612.1" width="5" height="6.1" fill="#001dff"/>
<rect x="447.5" y="617.6" width="5" height="8.9" fill="#0019ff"/>
<rect x="447.5" y="626" width="5" height="3.4" fill="#0016ff"/>
<rect x="447.5" y="628.7" width="5" height="6.1" fill="#0012ff"/>
<rect x="447.5" y="634.3" width="5" height="3.4" fill="#000fff"/>
<rect x="447.5" y="637" width="5" height="6.1" fill="#000bff"/>
<rect x="447.5" y="642.6" width="5" height="3.4" fill="#0007ff"/>
<rect x="451.9" y="545.6" width="5" height="3.4" fill="#ceff29"/>
<rect x="451.9" y="548.4" width="5" height="3.4" fill="#b0ff47"/>
<rect x="451.9" y="551.1" width="5" height="3.4" fill="#96ff61"/>
<rect x="451.9" y="553.9" width="5" height="3.4" fill="#7bff7b"/>
<rect x="451.9" y="556.7" width="5" height="3.4" fill="#64ff93"/>
<rect x="451.9" y="559.5" width="5" height="3.4" fill="#4cffaa"/>
<rect x="451.9" y="562.2" width="5" height="3.4" fill="#35ffc2"/>
<rect x="451.9" y="565" width="5" height="3.4" fill="#1affdc"/>
<rect x="451.9" y="567.8" width="5" height="3.4" fill="#00e2fa"/>
<rect x="451.9" y="570.5" width="5" height="3.4" fill="#00c1ff"/>
<rect x="451.9" y="573.3" width="5" height="3.4" fill="#00a0ff"/>
<rect x="451.9" y="576.1" width="5" height="3.4" fill="#0083ff"/>
<rect x="451.9" y="578.9" width="5" height="3.4" fill="#006dff"/>
<rect x="451.9" y="581.6" width="5" height="3.4" fill="#005fff"/>
<rect x="451.9" y="584.4" width="5" height="3.4" fill="#0050ff"/>
<rect x="451.9" y="587.2" width="5" height="3.4" fill="#0045ff"/>
<rect x="451.9" y="589.9" width="5" height="3.4" fill="#003aff"/>
<rect x="451.9" y="592.7" width="5" height="3.4" fill="#002fff"/>
<rect x="451.9" y="595.5" width="5" height="6.1" fill="#002cff"/>
<rect x="451.9" y="601" width="5" height="6.1" fill="#0028ff"/>
<rect x="451.9" y="606.6" width="5" height="3.4" fill="#0024ff"/>
<rect x="451.9" y="609.3" width="5" height="6.1" fill="#0021ff"/>
<rect x="451.9" y="614.9" width="5" height="11.7" fill="#001dff"/>
<rect x="451.9" y="626" width="5" height="3.4" fill="#0019ff"/>
<rect x="451.9" y="628.7" width="5" height="3.4" fill="#0016ff"/>
<rect x="451.9" y="631.5" width="5" height="3.4" fill="#0012ff"/>
<rect x="451.9" y="634.3" width="5" height="3.4" fill="#000fff"/>
<rect x="451.9" y="637" width="5" height="6.1" fill="#000bff"/>
<rect x="451.9" y="642.6" width="5" height="3.4" fill="#0007ff"/>
<rect x="456.3" y="545.6" width="5" height="3.4" fill="#d4ff23"/>
<rect x="456.3" y="548.4" width="5" height="3.4" fill="#b3ff44"/>
<rect x="456.3" y="551.1" width="5" height="3.4" fill="#93ff64"/>
<rect x="456.3" y="553.9" width="5" height="3.4" fill="#76ff81"/>
<rect x="456.3" y="556.7" width="5" height="3.4" fill="#58ff9f"/>
<rect x="456.3" y="559.5" width="5" height="3.4" fill="#41ffb6"/>
<rect x="456.3" y="562.2" width="5" height="3.4" fill="#26ffd1"/>
<rect x="456.3" y="565" width="5" height="3.4" fill="#06edf1"/>
<rect x="456.3" y="567.8" width="5" height="3.4" fill="#00ccff"/>
<rect x="456.3" y="570.5" width="5" height="3.4" fill="#00abff"/>
<rect x="456.3" y="573.3" width="5" height="3.4" fill="#008aff"/>
<rect x="456.3" y="576.1" width="5" height="3.4" fill="#0075ff"/>
<rect x="456.3" y="578.9" width="5" height="3.4" fill="#0066ff"/>
<rect x="456.3" y="581.6" width="5" height="3.4" fill="#0057ff"/>
<rect x="456.3" y="584.4" width="5" height="3.4" fill="#0049ff"/>
<rect x="456.3" y="587.2" width="5" height="3.4" fill="#003eff"/>
<rect x="456.3" y="589.9" width="5" height="3.4" fill="#0033ff"/>
<rect x="456.3" y="592.7" width="5" height="3.4" fill="#002cff"/>
<rect x="456.3" y="595.5" width="5" height="6.1" fill="#0028ff"/>
<rect x="456.3" y="601" width="5" height="6.1" fill="#0024ff"/>
<rect x="456.3" y="606.6" width="5" height="3.4" fill="#0021ff"/>
<rect x="456.3" y="609.3" width="5" height="3.4" fill="#001dff"/>
<rect x="456.3" y="612.1" width="5" height="14.5" fill="#0019ff"/>
<rect x="456.3" y="626" width="5" height="3.4" fill="#0016ff"/>
<rect x="456.3" y="628.7" width="5" height="3.4" fill="#0012ff"/>
<rect x="456.3" y="631.5" width="5" height="6.1" fill="#000fff"/>
<rect x="456.3" y="637" width="5" height="3.4" fill="#000bff"/>
<rect x="456.3" y="639.8" width="5" height="6.1" fill="#0007ff"/>
<rect x="460.7" y="545.6" width="5" height="3.4" fill="#c8ff2f"/>
<rect x="460.7" y="548.4" width="5" height="3.4" fill="#a5ff52"/>
<rect x="460.7" y="551.1" width="5" height="3.4" fill="#81ff76"/>
<rect x="460.7" y="553.9" width="5" height="3.4" fill="#64ff93"/>
<rect x="460.7" y="556.7" width="5" height="3.4" fill="#47ffb0"/>
<rect x="460.7" y="559.5" width="5" height="3.4" fill="#29ffce"/>
<rect x="460.7" y="562.2" width="5" height="3.4" fill="#06edf1"/>
<rect x="460.7" y="565" width="5" height="3.4" fill="#00d0ff"/>
<rect x="460.7" y="567.8" width="5" height="3.4" fill="#00b2ff"/>
<rect x="460.7" y="570.5" width="5" height="3.4" fill="#0099ff"/>
<rect x="460.7" y="573.3" width="5" height="3.4" fill="#0087ff"/>
<rect x="460.7" y="576.1" width="5" height="3.4" fill="#007cff"/>
<rect x="460.7" y="578.9" width="5" height="3.4" fill="#0071ff"/>
<rect x="460.7" y="581.6" width="5" height="3.4" fill="#0066ff"/>
<rect x="460.7" y="584.4" width="5" height="3.4" fill="#005fff"/>
<rect x="460.7" y="587.2" width="5" height="3.4" fill="#0057ff"/>
<rect x="460.7" y="589.9" width="5" height="3.4" fill="#0050ff"/>
<rect x="460.7" y="592.7" width="5" height="3.4" fill="#0049ff"/>
<rect x="460.7" y="595.5" width="5" height="3.4" fill="#0042ff"/>
<rect x="460.7" y="598.2" width="5" height="3.4" fill="#003aff"/>
<rect x="460.7" y="601" width="5" height="3.4" fill="#0037ff"/>
<rect x="460.7" y="603.8" width="5" height="3.4" fill="#002cff"/>
<rect x="460.7" y="606.6" width="5" height="3.4" fill="#0024ff"/>
<rect x="460.7" y="609.3" width="5" height="3.4" fill="#0021ff"/>
<rect x="460.7" y="612.1" width="5" height="3.4" fill="#001dff"/>
<rect x="460.7" y="614.9" width="5" height="3.4" fill="#0019ff"/>
<rect x="460.7" y="617.6" width="5" height="3.4" fill="#0016ff"/>
<rect x="460.7" y="620.4" width="5" height="3.4" fill="#0012ff"/>
<rect x="460.7" y="623.2" width="5" height="6.1" fill="#000fff"/>
<rect x="460.7" y="628.7" width="5" height="6.1" fill="#000bff"/>
<rect x="460.7" y="634.3" width="5" height="8.9" fill="#0007ff"/>
<rect x="460.7" y="642.6" width="5" height="3.4" fill="#0004ff"/>
<rect x="465.1" y="545.6" width="5" height="3.4" fill="#c8ff2f"/>
<rect x="465.1" y="548.4" width="5" height="3.4" fill="#99ff5e"/>
<rect x="465.1" y="551.1" width="5" height="3.4" fill="#6dff8a"/>
<rect x="465.1" y="553.9" width="5" height="3.4" fill="#44ffb3"/>
<rect x="465.1" y="556.7" width="5" height="3.4" fill="#1affdc"/>
<rect x="465.1" y="559.5" width="5" height="3.4" fill="#00defd"/>
<rect x="465.1" y="562.2" width="5" height="3.4" fill="#00c5ff"/>
<rect x="465.1" y="565" width="5" height="3.4" fill="#00abff"/>
<rect x="465.1" y="567.8" width="5" height="3.4" fill="#0099ff"/>
<rect x="465.1" y="570.5" width="5" height="3.4" fill="#008eff"/>
<rect x="465.1" y="573.3" width="5" height="3.4" fill="#0083ff"/>
<rect x="465.1" y="576.1" width="5" height="3.4" fill="#0078ff"/>
<rect x="465.1" y="578.9" width="5" height="3.4" fill="#006dff"/>
<rect x="465.1" y="581.6" width="5" height="3.4" fill="#0066ff"/>
<rect x="465.1" y="584.4" width="5" height="3.4" fill="#005bff"/>
<rect x="465.1" y="587.2" width="5" height="3.4" fill="#0054ff"/>
<rect x="465.1" y="589.9" width="5" height="3.4" fill="#004dff"/>
<rect x="465.1" y="592.7" width="5" height="3.4" fill="#0045ff"/>
<rect x="465.1" y="595.5" width="5" height="3.4" fill="#0042ff"/>
<rect x="465.1" y="598.2" width="5" height="3.4" fill="#003aff"/>
<rect x="465.1" y="601" width="5" height="3.4" fill="#0033ff"/>
<rect x="465.1" y="603.8" width="5" height="3.4" fill="#002cff"/>
<rect x="465.1" y="606.6" width="5" height="3.4" fill="#0028ff"/>
<rect x="465.1" y="609.3" width="5" height="3.4" fill="#0021ff"/>
<rect x="465.1" y="612.1" width="5" height="3.4" fill="#001dff"/>
<rect x="465.1" y="614.9" width="5" height="3.4" fill="#0019ff"/>
<rect x="465.1" y="617.6" width="5" height="3.4" fill="#0016ff"/>
<rect x="465.1" y="620.4" width="5" height="3.4" fill="#0012ff"/>
<rect x="465.1" y="623.2" width="5" height="6.1" fill="#000fff"/>
<rect x="465.1" y="628.7" width="5" height="6.1" fill="#000bff"/>
<rect x="465.1" y="634.3" width="5" height="6.1" fill="#0007ff"/>
<rect x="465.1" y="639.8" width="5" height="6.1" fill="#0004ff"/>
<rect x="469.5" y="545.6" width="5" height="3.4" fill="#c8ff2f"/>
<rect x="469.5" y="548.4" width="5" height="3.4" fill="#93ff64"/>
<rect x="469.5" y="551.1" width="5" height="3.4" fill="#61ff96"/>
<rect x="469.5" y="553.9" width="5" height="3.4" fill="#35ffc2"/>
<rect x="469.5" y="556.7" width="5" height="3.4" fill="#03e9f4"/>
<rect x="469.5" y="559.5" width="5" height="3.4" fill="#00ccff"/>
<rect x="469.5" y="562.2" width="5" height="3.4" fill="#00afff"/>
<rect x="469.5" y="565" width="5" height="3.4" fill="#0095ff"/>
<rect x="469.5" y="567.8" width="5" height="3.4" fill="#0087ff"/>
<rect x="469.5" y="570.5" width="5" height="3.4" fill="#007cff"/>
<rect x="469.5" y="573.3" width="5" height="3.4" fill="#0071ff"/>
<rect x="469.5" y="576.1" width="5" height="3.4" fill="#006aff"/>
<rect x="469.5" y="578.9" width="5" height="3.4" fill="#005fff"/>
<rect x="469.5" y="581.6" width="5" height="3.4" fill="#0057ff"/>
<rect x="469.5" y="584.4" width="5" height="3.4" fill="#0050ff"/>
<rect x="469.5" y="587.2" width="5" height="3.4" fill="#0049ff"/>
<rect x="469.5" y="589.9" width="5" height="3.4" fill="#0045ff"/>
<rect x="469.5" y="592.7" width="5" height="3.4" fill="#003eff"/>
<rect x="469.5" y="595.5" width="5" height="3.4" fill="#0037ff"/>
<rect x="469.5" y="598.2" width="5" height="3.4" fill="#002fff"/>
<rect x="469.5" y="601" width="5" height="3.4" fill="#0028ff"/>
<rect x="469.5" y="603.8" width="5" height="3.4" fill="#0021ff"/>
<rect x="469.5" y="606.6" width="5" height="3.4" fill="#0019ff"/>
<rect x="469.5" y="609.3" width="5" height="3.4" fill="#0016ff"/>
<rect x="469.5" y="612.1" width="5" height="3.4" fill="#0012ff"/>
<rect x="469.5" y="614.9" width="5" height="6.1" fill="#000fff"/>
<rect x="469.5" y="620.4" width="5" height="6.1" fill="#000bff"/>
<rect x="469.5" y="626" width="5" height="8.9" fill="#0007ff"/>
<rect x="469.5" y="634.3" width="5" height="11.7" fill="#0004ff"/>
<rect x="473.9" y="545.6" width="5" height="3.4" fill="#c8ff2f"/>
<rect x="473.9" y="548.4" width="5" height="3.4" fill="#a5ff52"/>
<rect x="473.9" y="551.1" width="5" height="3.4" fill="#81ff76"/>
<rect x="473.9" y="553.9" width="5" height="3.4" fill="#64ff93"/>
<rect x="473.9" y="556.7" width="5" height="3.4" fill="#47ffb0"/>
<rect x="473.9" y="559.5" width="5" height="3.4" fill="#29ffce"/>
<rect x="473.9" y="562.2" width="5" height="3.4" fill="#06edf1"/>
<rect x="473.9" y="565" width="5" height="3.4" fill="#00d0ff"/>
<rect x="473.9" y="567.8" width="5" height="3.4" fill="#00b2ff"/>
<rect x="473.9" y="570.5" width="5" height="3.4" fill="#0099ff"/>
<rect x="473.9" y="573.3" width="5" height="3.4" fill="#0087ff"/>
<rect x="473.9" y="576.1" width="5" height="3.4" fill="#007cff"/>
<rect x="473.9" y="578.9" width="5" height="3.4" fill="#0071ff"/>
<rect x="473.9" y="581.6" width="5" height="3.4" fill="#0066ff"/>
<rect x="473.9" y="584.4" width="5" height="3.4" fill="#005fff"/>
<rect x="473.9" y="587.2" width="5" height="3.4" fill="#0057ff"/>
<rect x="473.9" y="589.9" width="5" height="3.4" fill="#0050ff"/>
<rect x="473.9" y="592.7" width="5" height="3.4" fill="#0049ff"/>
<rect x="473.9" y="595.5" width="5" height="3.4" fill="#0042ff"/>
<rect x="473.9" y="598.2" width="5" height="3.4" fill="#003aff"/>
<rect x="473.9" y="601" width="5" height="3.4" fill="#0037ff"/>
<rect x="473.9" y="603.8" width="5" height="3.4" fill="#002cff"/>
<rect x="473.9" y="606.6" width="5" height="3.4" fill="#0024ff"/>
<rect x="473.9" y="609.3" width="5" height="3.4" fill="#0021ff"/>
<rect x="473.9" y="612.1" width="5" height="3.4" fill="#001dff"/>
<rect x="473.9" y="614.9" width="5" height="3.4" fill="#0019ff"/>
<rect x="473.9" y="617.6" width="5" height="3.4" fill="#0016ff"/>
<rect x="473.9" y="620.4" width="5" height="3.4" fill="#0012ff"/>
<rect x="473.9" y="623.2" width="5" height="6.1" fill="#000fff"/>
<rect x="473.9" y="628.7" width="5" height="6.1" fill="#000bff"/>
<rect x="473.9" y="634.3" width="5" height="8.9" fill="#0007ff"/>
<rect x="473.9" y="642.6" width="5" height="3.4" fill="#0004ff"/>
<rect x="478.3" y="545.6" width="5" height="3.4" fill="#ceff29"/>
<rect x="478.3" y="548.4" width="5" height="3.4" fill="#a5ff52"/>
<rect x="478.3" y="551.1" width="5" height="3.4" fill="#7eff78"/>
<rect x="478.3" y="553.9" width="5" height="3.4" fill="#5eff99"/>
<rect x="478.3" y="556.7" width="5" height="3.4" fill="#3bffbc"/>
<rect x="478.3" y="559.5" width="5" height="3.4" fill="#1affdc"/>
<rect x="478.3" y="562.2" width="5" height="3.4" fill="#00defd"/>
<rect x="478.3" y="565" width="5" height="3.4" fill="#00c1ff"/>
<rect x="478.3" y="567.8" width="5" height="3.4" fill="#00a4ff"/>
<rect x="478.3" y="570.5" width="5" height="3.4" fill="#008eff"/>
<rect x="478.3" y="573.3" width="5" height="3.4" fill="#0080ff"/>
<rect x="478.3" y="576.1" width="5" height="3.4" fill="#0075ff"/>
<rect x="478.3" y="578.9" width="5" height="3.4" fill="#006aff"/>
<rect x="478.3" y="581.6" width="5" height="3.4" fill="#0062ff"/>
<rect x="478.3" y="584.4" width="5" height="3.4" fill="#005bff"/>
<rect x="478.3" y="587.2" width="5" height="3.4" fill="#0054ff"/>
<rect x="478.3" y="589.9" width="5" height="3.4" fill="#004dff"/>
<rect x="478.3" y="592.7" width="5" height="3.4" fill="#0045ff"/>
<rect x="478.3" y="595.5" width="5" height="3.4" fill="#003eff"/>
<rect x="478.3" y="598.2" width="5" height="3.4" fill="#003aff"/>
<rect x="478.3" y="601" width="5" height="3.4" fill="#002fff"/>
<rect x="478.3" y="603.8" width="5" height="3.4" fill="#0028ff"/>
<rect x="478.3" y="606.6" width="5" height="3.4" fill="#0021ff"/>
<rect x="478.3" y="609.3" width="5" height="3.4" fill="#001dff"/>
<rect x="478.3" y="612.1" width="5" height="3.4" fill="#0019ff"/>
<rect x="478.3" y="614.9" width="5" height="3.4" fill="#0016ff"/>
<rect x="478.3" y="617.6" width="5" height="3.4" fill="#0012ff"/>
<rect x="478.3" y="620.4" width="5" height="6.1" fill="#000fff"/>
<rect x="478.3" y="626" width="5" height="6.1" fill="#000bff"/>
<rect x="478.3" y="631.5" width="5" height="11.7" fill="#0007ff"/>
<rect x="478.3" y="642.6" width="5" height="3.4" fill="#0004ff"/>
<rect x="482.7" y="545.6" width="5" height="3.4" fill="#c8ff2f"/>
<rect x="482.7" y="548.4" width="5" height="3.4" fill="#a5ff52"/>
<rect x="482.7" y="551.1" width="5" height="3.4" fill="#81ff76"/>
<rect x="482.7" y="553.9" width="5" height="3.4" fill="#64ff93"/>
<rect x="482.7" y="556.7" width="5" height="3.4" fill="#47ffb0"/>
<rect x="482.7" y="559.5" width="5" height="3.4" fill="#29ffce"/>
<rect x="482.7" y="562.2" width="5" height="3.4" fill="#06edf1"/>
<rect x="482.7" y="565" width="5" height="3.4" fill="#00d0ff"/>
<rect x="482.7" y="567.8" width="5" height="3.4" fill="#00b2ff"/>
<rect x="482.7" y="570.5" width="5" height="3.4" fill="#0099ff"/>
<rect x="482.7" y="573.3" width="5" height="3.4" fill="#0087ff"/>
<rect x="482.7" y="576.1" width="5" height="3.4" fill="#007cff"/>
<rect x="482.7" y="578.9" width="5" height="3.4" fill="#0071ff"/>
<rect x="482.7" y="581.6" width="5" height="3.4" fill="#0066ff"/>
<rect x="482.7" y="584.4" width="5" height="3.4" fill="#005fff"/>
<rect x="482.7" y="587.2" width="5" height="3.4" fill="#0057ff"/>
<rect x="482.7" y="589.9" width="5" height="3.4" fill="#0050ff"/>
<rect x="482.7" y="592.7" width="5" height="3.4" fill="#0049ff"/>
<rect x="482.7" y="595.5" width="5" height="3.4" fill="#0042ff"/>
<rect x="482.7" y="598.2" width="5" height="3.4" fill="#003aff"/>
<rect x="482.7" y="601" width="5" height="3.4" fill="#0037ff"/>
<rect x="482.7" y="603.8" width="5" height="3.4" fill="#002cff"/>
<rect x="482.7" y="606.6" width="5" height="3.4" fill="#0024ff"/>
<rect x="482.7" y="609.3" width="5" height="3.4" fill="#0021ff"/>
<rect x="482.7" y="612.1" width="5" height="3.4" fill="#001dff"/>
<rect x="482.7" y="614.9" width="5" height="3.4" fill="#0019ff"/>
<rect x="482.7" y="617.6" width="5" height="3.4" fill="#0016ff"/>
<rect x="482.7" y="620.4" width="5" height="3.4" fill="#0012ff"/>
<rect x="482.7" y="623.2" width="5" height="6.1" fill="#000fff"/>
<rect x="482.7" y="628.7" width="5" height="6.1" fill="#000bff"/>
<rect x="482.7" y="634.3" width="5" height="8.9" fill="#0007ff"/>
<rect x="482.7" y="642.6" width="5" height="3.4" fill="#0004ff"/>
<rect x="487.2" y="545.6" width="5" height="3.4" fill="#c8ff2f"/>
<rect x="487.2" y="548.4" width="5" height="3.4" fill="#a5ff52"/>
<rect x="487.2" y="551.1" width="5" height="3.4" fill="#81ff76"/>
<rect x="487.2" y="553.9" width="5" height="3.4" fill="#64ff93"/>
<rect x="487.2" y="556.7" width="5" height="3.4" fill="#47ffb0"/>
<rect x="487.2" y="559.5" width="5" height="3.4" fill="#29ffce"/>
<rect x="487.2" y="562.2" width="5" height="3.4" fill="#06edf1"/>
<rect x="487.2" y="565" width="5" height="3.4" fill="#00d0ff"/>
<rect x="487.2" y="567.8" width="5" height="3.4" fill="#00b2ff"/>
<rect x="487.2" y="570.5" width="5" height="3.4" fill="#0099ff"/>
<rect x="487.2" y="573.3" width="5" height="3.4" fill="#0087ff"/>
<rect x="487.2" y="576.1" width="5" height="3.4" fill="#007cff"/>
<rect x="487.2" y="578.9" width="5" height="3.4" fill="#0071ff"/>
<rect x="487.2" y="581.6" width="5" height="3.4" fill="#0066ff"/>
<rect x="487.2" y="584.4" width="5" height="3.4" fill="#005fff"/>
<rect x="487.2" y="587.2" width="5" height="3.4" fill="#0057ff"/>
<rect x="487.2" y="589.9" width="5" height="3.4" fill="#0050ff"/>
<rect x="487.2" y="592.7" width="5" height="3.4" fill="#0049ff"/>
<rect x="487.2" y="595.5" width="5" height="3.4" fill="#0042ff"/>
<rect x="487.2" y="598.2" width="5" height="3.4" fill="#003aff"/>
<rect x="487.2" y="601" width="5" height="3.4" fill="#0037ff"/>
<rect x="487.2" y="603.8" width="5" height="3.4" fill="#002cff"/>
<rect x="487.2" y="606.6" width="5" height="3.4" fill="#0024ff"/>
<rect x="487.2" y="609.3" width="5" height="3.4" fill="#0021ff"/>
<rect x="487.2" y="612.1" width="5" height="3.4" fill="#001dff"/>
<rect x="487.2" y="614.9" width="5" height="3.4" fill="#0019ff"/>
<rect x="487.2" y="617.6" width="5" height="3.4" fill="#0016ff"/>
<rect x="487.2" y="620.4" width="5" height="3.4" fill="#0012ff"/>
<rect x="487.2" y="623.2" width="5" height="6.1" fill="#000fff"/>
<rect x="487.2" y="628.7" width="5" height="6.1" fill="#000bff"/>
<rect x="487.2" y="634.3" width="5" height="8.9" fill="#0007ff"/>
<rect x="487.2" y="642.6" width="5" height="3.4" fill="#0004ff"/>
<rect x="491.6" y="545.6" width="5" height="3.4" fill="#ceff29"/>
<rect x="491.6" y="548.4" width="5" height="3.4" fill="#aaff4c"/>
<rect x="491.6" y="551.1" width="5" height="3.4" fill="#84ff73"/>
<rect x="491.6" y="553.9" width="5" height="3.4" fill="#64ff93"/>
<rect x="491.6" y="556.7" width="5" height="3.4" fill="#47ffb0"/>
<rect x="491.6" y="559.5" width="5" height="3.4" fill="#29ffce"/>
<rect x="491.6" y="562.2" width="5" height="3.4" fill="#06edf1"/>
<rect x="491.6" y="565" width="5" height="3.4" fill="#00d0ff"/>
<rect x="491.6" y="567.8" width="5" height="3.4" fill="#00b2ff"/>
<rect x="491.6" y="570.5" width="5" height="3.4" fill="#0099ff"/>
<rect x="491.6" y="573.3" width="5" height="3.4" fill="#0087ff"/>
<rect x="491.6" y="576.1" width="5" height="3.4" fill="#007cff"/>
<rect x="491.6" y="578.9" width="5" height="3.4" fill="#0071ff"/>
<rect x="491.6" y="581.6" width="5" height="3.4" fill="#0066ff"/>
<rect x="491.6" y="584.4" width="5" height="3.4" fill="#005fff"/>
<rect x="491.6" y="587.2" width="5" height="3.4" fill="#0057ff"/>
<rect x="491.6" y="589.9" width="5" height="3.4" fill="#0050ff"/>
<rect x="491.6" y="592.7" width="5" height="3.4" fill="#0049ff"/>
<rect x="491.6" y="595.5" width="5" height="3.4" fill="#0042ff"/>
<rect x="491.6" y="598.2" width="5" height="3.4" fill="#003aff"/>
<rect x="491.6" y="601" width="5" height="3.4" fill="#0037ff"/>
<rect x="491.6" y="603.8" width="5" height="3.4" fill="#002cff"/>
<rect x="491.6" y="606.6" width="5" height="3.4" fill="#0024ff"/>
<rect x="491.6" y="609.3" width="5" height="3.4" fill="#0021ff"/>
<rect x="491.6" y="612.1" width="5" height="3.4" fill="#001dff"/>
<rect x="491.6" y="614.9" width="5" height="3.4" fill="#0019ff"/>
<rect x="491.6" y="617.6" width="5" height="3.4" fill="#0016ff"/>
<rect x="491.6" y="620.4" width="5" height="3.4" fill="#0012ff"/>
<rect x="491.6" y="623.2" width="5" height="6.1" fill="#000fff"/>
<rect x="491.6" y="628.7" width="5" height="6.1" fill="#000bff"/>
<rect x="491.6" y="634.3" width="5" height="8.9" fill="#0007ff"/>
<rect x="491.6" y="642.6" width="5" height="3.4" fill="#0004ff"/>
<rect x="496" y="545.6" width="5" height="3.4" fill="#d4ff23"/>
<rect x="496" y="548.4" width="5" height="3.4" fill="#b3ff44"/>
<rect x="496" y="551.1" width="5" height="3.4" fill="#93ff64"/>
<rect x="496" y="553.9" width="5" height="3.4" fill="#76ff81"/>
<rect x="496" y="556.7" width="5" height="3.4" fill="#58ff9f"/>
<rect x="496" y="559.5" width="5" height="3.4" fill="#41ffb6"/>
<rect x="496" y="562.2" width="5" height="3.4" fill="#26ffd1"/>
<rect x="496" y="565" width="5" height="3.4" fill="#09f0ee"/>
<rect x="496" y="567.8" width="5" height="3.4" fill="#00d3ff"/>
<rect x="496" y="570.5" width="5" height="3.4" fill="#00b6ff"/>
<rect x="496" y="573.3" width="5" height="3.4" fill="#009dff"/>
<rect x="496" y="576.1" width="5" height="3.4" fill="#0087ff"/>
<rect x="496" y="578.9" width="5" height="3.4" fill="#0078ff"/>
<rect x="496" y="581.6" width="5" height="3.4" fill="#006dff"/>
<rect x="496" y="584.4" width="5" height="3.4" fill="#0062ff"/>
<rect x="496" y="587.2" width="5" height="3.4" fill="#0057ff"/>
<rect x="496" y="589.9" width="5" height="3.4" fill="#0050ff"/>
<rect x="496" y="592.7" width="5" height="3.4" fill="#0045ff"/>
<rect x="496" y="595.5" width="5" height="3.4" fill="#003eff"/>
<rect x="496" y="598.2" width="5" height="3.4" fill="#0037ff"/>
<rect x="496" y="601" width="5" height="3.4" fill="#002fff"/>
<rect x="496" y="603.8" width="5" height="3.4" fill="#0028ff"/>
<rect x="496" y="606.6" width="5" height="3.4" fill="#001dff"/>
<rect x="496" y="609.3" width="5" height="3.4" fill="#0019ff"/>
<rect x="496" y="612.1" width="5" height="3.4" fill="#0016ff"/>
<rect x="496" y="614.9" width="5" height="3.4" fill="#0012ff"/>
<rect x="496" y="617.6" width="5" height="6.1" fill="#000fff"/>
<rect x="496" y="623.2" width="5" height="8.9" fill="#000bff"/>
<rect x="496" y="631.5" width="5" height="14.5" fill="#0007ff"/>
<rect x="500.4" y="545.6" width="5" height="3.4" fill="#dfff18"/>
<rect x="500.4" y="548.4" width="5" height="3.4" fill="#bfff38"/>
<rect x="500.4" y="551.1" width="5" height="3.4" fill="#9cff5b"/>
<rect x="500.4" y="553.9" width="5" height="3.4" fill="#7bff7b"/>
<rect x="500.4" y="556.7" width="5" height="3.4" fill="#5eff99"/>
<rect x="500.4" y="559.5" width="5" height="3.4" fill="#49ffad"/>
<rect x="500.4" y="562.2" width="5" height="3.4" fill="#32ffc5"/>
<rect x="500.4" y="565" width="5" height="3.4" fill="#18ffdf"/>
<rect x="500.4" y="567.8" width="5" height="3.4" fill="#00e2fa"/>
<rect x="500.4" y="570.5" width="5" height="3.4" fill="#00c5ff"/>
<rect x="500.4" y="573.3" width="5" height="3.4" fill="#00a8ff"/>
<rect x="500.4" y="576.1" width="5" height="3.4" fill="#008eff"/>
<rect x="500.4" y="578.9" width="5" height="3.4" fill="#0080ff"/>
<rect x="500.4" y="581.6" width="5" height="3.4" fill="#0071ff"/>
<rect x="500.4" y="584.4" width="5" height="3.4" fill="#0066ff"/>
<rect x="500.4" y="587.2" width="5" height="3.4" fill="#005bff"/>
<rect x="500.4" y="589.9" width="5" height="3.4" fill="#0054ff"/>
<rect x="500.4" y="592.7" width="5" height="3.4" fill="#0049ff"/>
<rect x="500.4" y="595.5" width="5" height="3.4" fill="#0042ff"/>
<rect x="500.4" y="598.2" width="5" height="3.4" fill="#003aff"/>
<rect x="500.4" y="601" width="5" height="3.4" fill="#0033ff"/>
<rect x="500.4" y="603.8" width="5" height="3.4" fill="#002cff"/>
<rect x="500.4" y="606.6" width="5" height="3.4" fill="#0021ff"/>
<rect x="500.4" y="609.3" width="5" height="3.4" fill="#001dff"/>
<rect x="500.4" y="612.1" width="5" height="3.4" fill="#0019ff"/>
<rect x="500.4" y="614.9" width="5" height="3.4" fill="#0016ff"/>
<rect x="500.4" y="617.6" width="5" height="3.4" fill="#0012ff"/>
<rect x="500.4" y="620.4" width="5" height="6.1" fill="#000fff"/>
<rect x="500.4" y="626" width="5" height="17.2" fill="#000bff"/>
<rect x="500.4" y="642.6" width="5" height="3.4" fill="#0007ff"/>
<rect x="504.8" y="545.6" width="5" height="3.4" fill="#dfff18"/>
<rect x="504.8" y="548.4" width="5" height="3.4" fill="#bcff3b"/>
<rect x="504.8" y="551.1" width="5" height="3.4" fill="#9cff5b"/>
<rect x="504.8" y="553.9" width="5" height="3.4" fill="#7bff7b"/>
<rect x="504.8" y="556.7" width="5" height="3.4" fill="#5eff99"/>
<rect x="504.8" y="559.5" width="5" height="3.4" fill="#44ffb3"/>
<rect x="504.8" y="562.2" width="5" height="3.4" fill="#2cffcb"/>
<rect x="504.8" y="565" width="5" height="3.4" fill="#12fbe5"/>
<rect x="504.8" y="567.8" width="5" height="3.4" fill="#00dbff"/>
<rect x="504.8" y="570.5" width="5" height="3.4" fill="#00bdff"/>
<rect x="504.8" y="573.3" width="5" height="3.4" fill="#00a4ff"/>
<rect x="504.8" y="576.1" width="5" height="3.4" fill="#008aff"/>
<rect x="504.8" y="578.9" width="5" height="3.4" fill="#007cff"/>
<rect x="504.8" y="581.6" width="5" height="3.4" fill="#006dff"/>
<rect x="504.8" y="584.4" width="5" height="3.4" fill="#0062ff"/>
<rect x="504.8" y="587.2" width="5" height="3.4" fill="#005bff"/>
<rect x="504.8" y="589.9" width="5" height="3.4" fill="#0050ff"/>
<rect x="504.8" y="592.7" width="5" height="3.4" fill="#0049ff"/>
<rect x="504.8" y="595.5" width="5" height="3.4" fill="#0042ff"/>
<rect x="504.8" y="598.2" width="5" height="3.4" fill="#003aff"/>
<rect x="504.8" y="601" width="5" height="3.4" fill="#002fff"/>
<rect x="504.8" y="603.8" width="5" height="3.4" fill="#0028ff"/>
<rect x="504.8" y="606.6" width="5" height="3.4" fill="#0021ff"/>
<rect x="504.8" y="609.3" width="5" height="3.4" fill="#0019ff"/>
<rect x="504.8" y="612.1" width="5" height="3.4" fill="#0016ff"/>
<rect x="504.8" y="614.9" width="5" height="6.1" fill="#0012ff"/>
<rect x="504.8" y="620.4" width="5" height="6.1" fill="#000fff"/>
<rect x="504.8" y="626" width="5" height="17.2" fill="#000bff"/>
<rect x="504.8" y="642.6" width="5" height="3.4" fill="#0007ff"/>
<rect x="509.2" y="545.6" width="5" height="3.4" fill="#f7f600"/>
<rect x="509.2" y="548.4" width="5" height="3.4" fill="#d1ff26"/>
<rect x="509.2" y="551.1" width="5" height="3.4" fill="#aaff4c"/>
<rect x="509.2" y="553.9" width="5" height="3.4" fill="#87ff70"/>
<rect x="509.2" y="556.7" width="5" height="3.4" fill="#67ff90"/>
<rect x="509.2" y="559.5" width="5" height="3.4" fill="#4fffa7"/>
<rect x="509.2" y="562.2" width="5" height="3.4" fill="#3bffbc"/>
<rect x="509.2" y="565" width="5" height="3.4" fill="#26ffd1"/>
<rect x="509.2" y="567.8" width="5" height="3.4" fill="#0cf4eb"/>
<rect x="509.2" y="570.5" width="5" height="3.4" fill="#00d7ff"/>
<rect x="509.2" y="573.3" width="5" height="3.4" fill="#00baff"/>
<rect x="509.2" y="576.1" width="5" height="3.4" fill="#009dff"/>
<rect x="509.2" y="578.9" width="5" height="3.4" fill="#0087ff"/>
<rect x="509.2" y="581.6" width="5" height="3.4" fill="#0078ff"/>
<rect x="509.2" y="584.4" width="5" height="3.4" fill="#006aff"/>
<rect x="509.2" y="587.2" width="5" height="3.4" fill="#005fff"/>
<rect x="509.2" y="589.9" width="5" height="3.4" fill="#0057ff"/>
<rect x="509.2" y="592.7" width="5" height="3.4" fill="#004dff"/>
<rect x="509.2" y="595.5" width="5" height="3.4" fill="#0045ff"/>
<rect x="509.2" y="598.2" width="5" height="3.4" fill="#003eff"/>
<rect x="509.2" y="601" width="5" height="3.4" fill="#0037ff"/>
<rect x="509.2" y="603.8" width="5" height="3.4" fill="#002fff"/>
<rect x="509.2" y="606.6" width="5" height="3.4" fill="#0024ff"/>
<rect x="509.2" y="609.3" width="5" height="3.4" fill="#0021ff"/>
<rect x="509.2" y="612.1" width="5" height="3.4" fill="#001dff"/>
<rect x="509.2" y="614.9" width="5" height="3.4" fill="#0019ff"/>
<rect x="509.2" y="617.6" width="5" height="3.4" fill="#0016ff"/>
<rect x="509.2" y="620.4" width="5" height="3.4" fill="#0012ff"/>
<rect x="509.2" y="623.2" width="5" height="8.9" fill="#000fff"/>
<rect x="509.2" y="631.5" width="5" height="11.7" fill="#000bff"/>
<rect x="509.2" y="642.6" width="5" height="3.4" fill="#0007ff"/>
<rect x="513.6" y="545.6" width="5" height="3.4" fill="#ebff0c"/>
<rect x="513.6" y="548.4" width="5" height="3.4" fill="#ceff29"/>
<rect x="513.6" y="551.1" width="5" height="3.4" fill="#b0ff47"/>
<rect x="513.6" y="553.9" width="5" height="3.4" fill="#93ff64"/>
<rect x="513.6" y="556.7" width="5" height="3.4" fill="#78ff7e"/>
<rect x="513.6" y="559.5" width="5" height="3.4" fill="#67ff90"/>
<rect x="513.6" y="562.2" width="5" height="3.4" fill="#55ffa2"/>
<rect x="513.6" y="565" width="5" height="3.4" fill="#44ffb3"/>
<rect x="513.6" y="567.8" width="5" height="3.4" fill="#32ffc5"/>
<rect x="513.6" y="570.5" width="5" height="3.4" fill="#20ffd6"/>
<rect x="513.6" y="573.3" width="5" height="3.4" fill="#0cf4eb"/>
<rect x="513.6" y="576.1" width="5" height="3.4" fill="#00d7ff"/>
<rect x="513.6" y="578.9" width="5" height="3.4" fill="#00b6ff"/>
<rect x="513.6" y="581.6" width="5" height="3.4" fill="#0099ff"/>
<rect x="513.6" y="584.4" width="5" height="3.4" fill="#0083ff"/>
<rect x="513.6" y="587.2" width="5" height="3.4" fill="#0075ff"/>
<rect x="513.6" y="589.9" width="5" height="3.4" fill="#0066ff"/>
<rect x="513.6" y="592.7" width="5" height="3.4" fill="#005fff"/>
<rect x="513.6" y="595.5" width="5" height="3.4" fill="#0054ff"/>
<rect x="513.6" y="598.2" width="5" height="3.4" fill="#0049ff"/>
<rect x="513.6" y="601" width="5" height="3.4" fill="#0042ff"/>
<rect x="513.6" y="603.8" width="5" height="3.4" fill="#003aff"/>
<rect x="513.6" y="606.6" width="5" height="3.4" fill="#0033ff"/>
<rect x="513.6" y="609.3" width="5" height="3.4" fill="#002fff"/>
<rect x="513.6" y="612.1" width="5" height="3.4" fill="#002cff"/>
<rect x="513.6" y="614.9" width="5" height="3.4" fill="#0024ff"/>
<rect x="513.6" y="617.6" width="5" height="3.4" fill="#0021ff"/>
<rect x="513.6" y="620.4" width="5" height="3.4" fill="#001dff"/>
<rect x="513.6" y="623.2" width="5" height="3.4" fill="#0019ff"/>
<rect x="513.6" y="626" width="5" height="6.1" fill="#0016ff"/>
<rect x="513.6" y="631.5" width="5" height="8.9" fill="#0012ff"/>
<rect x="513.6" y="639.8" width="5" height="6.1" fill="#000fff"/>
<rect x="518" y="545.6" width="5" height="3.4" fill="#d9ff1d"/>
<rect x="518" y="548.4" width="5" height="3.4" fill="#c5ff32"/>
<rect x="518" y="551.1" width="5" height="3.4" fill="#adff49"/>
<rect x="518" y="553.9" width="5" height="3.4" fill="#99ff5e"/>
<rect x="518" y="556.7" width="5" height="3.4" fill="#84ff73"/>
<rect x="518" y="559.5" width="5" height="3.4" fill="#76ff81"/>
<rect x="518" y="562.2" width="5" height="3.4" fill="#67ff90"/>
<rect x="518" y="565" width="5" height="3.4" fill="#58ff9f"/>
<rect x="518" y="567.8" width="5" height="3.4" fill="#4cffaa"/>
<rect x="518" y="570.5" width="5" height="3.4" fill="#3effb9"/>
<rect x="518" y="573.3" width="5" height="3.4" fill="#2fffc8"/>
<rect x="518" y="576.1" width="5" height="3.4" fill="#1dffd9"/>
<rect x="518" y="578.9" width="5" height="3.4" fill="#0cf4eb"/>
<rect x="518" y="581.6" width="5" height="3.4" fill="#00d7ff"/>
<rect x="518" y="584.4" width="5" height="3.4" fill="#00baff"/>
<rect x="518" y="587.2" width="5" height="3.4" fill="#009dff"/>
<rect x="518" y="589.9" width="5" height="3.4" fill="#0083ff"/>
<rect x="518" y="592.7" width="5" height="3.4" fill="#0071ff"/>
<rect x="518" y="595.5" width="5" height="3.4" fill="#0066ff"/>
<rect x="518" y="598.2" width="5" height="3.4" fill="#005bff"/>
<rect x="518" y="601" width="5" height="3.4" fill="#0050ff"/>
<rect x="518" y="603.8" width="5" height="3.4" fill="#0049ff"/>
<rect x="518" y="606.6" width="5" height="3.4" fill="#003eff"/>
<rect x="518" y="609.3" width="5" height="3.4" fill="#003aff"/>
<rect x="518" y="612.1" width="5" height="3.4" fill="#0037ff"/>
<rect x="518" y="614.9" width="5" height="3.4" fill="#0033ff"/>
<rect x="518" y="617.6" width="5" height="3.4" fill="#002fff"/>
<rect x="518" y="620.4" width="5" height="3.4" fill="#002cff"/>
<rect x="518" y="623.2" width="5" height="3.4" fill="#0028ff"/>
<rect x="518" y="626" width="5" height="3.4" fill="#0021ff"/>
<rect x="518" y="628.7" width="5" height="6.1" fill="#001dff"/>
<rect x="518" y="634.3" width="5" height="6.1" fill="#0019ff"/>
<rect x="518" y="639.8" width="5" height="3.4" fill="#0016ff"/>
<rect x="518" y="642.6" width="5" height="3.4" fill="#0012ff"/>
<rect x="522.4" y="545.6" width="4.4" height="3.4" fill="#ceff29"/>
<rect x="522.4" y="548.4" width="4.4" height="3.4" fill="#bcff3b"/>
<rect x="522.4" y="551.1" width="4.4" height="3.4" fill="#aaff4c"/>
<rect x="522.4" y="553.9" width="4.4" height="3.4" fill="#99ff5e"/>
<rect x="522.4" y="556.7" width="4.4" height="3.4" fill="#87ff70"/>
<rect x="522.4" y="559.5" width="4.4" height="3.4" fill="#78ff7e"/>
<rect x="522.4" y="562.2" width="4.4" height="3.4" fill="#6aff8d"/>
<rect x="522.4" y="565" width="4.4" height="3.4" fill="#5eff99"/>
<rect x="522.4" y="567.8" width="4.4" height="3.4" fill="#4fffa7"/>
<rect x="522.4" y="570.5" width="4.4" height="3.4" fill="#41ffb6"/>
<rect x="522.4" y="573.3" width="4.4" height="3.4" fill="#35ffc2"/>
<rect x="522.4" y="576.1" width="4.4" height="3.4" fill="#23ffd4"/>
<rect x="522.4" y="578.9" width="4.4" height="3.4" fill="#12fbe5"/>
<rect x="522.4" y="581.6" width="4.4" height="3.4" fill="#00e5f7"/>
<rect x="522.4" y="584.4" width="4.4" height="3.4" fill="#00c8ff"/>
<rect x="522.4" y="587.2" width="4.4" height="3.4" fill="#00a8ff"/>
<rect x="522.4" y="589.9" width="4.4" height="3.4" fill="#008eff"/>
<rect x="522.4" y="592.7" width="4.4" height="3.4" fill="#0078ff"/>
<rect x="522.4" y="595.5" width="4.4" height="3.4" fill="#006aff"/>
<rect x="522.4" y="598.2" width="4.4" height="3.4" fill="#005fff"/>
<rect x="522.4" y="601" width="4.4" height="3.4" fill="#0054ff"/>
<rect x="522.4" y="603.8" width="4.4" height="3.4" fill="#004dff"/>
<rect x="522.4" y="606.6" width="4.4" height="3.4" fill="#0042ff"/>
<rect x="522.4" y="609.3" width="4.4" height="3.4" fill="#003eff"/>
<rect x="522.4" y="612.1" width="4.4" height="3.4" fill="#003aff"/>
<rect x="522.4" y="614.9" width="4.4" height="3.4" fill="#0037ff"/>
<rect x="522.4" y="617.6" width="4.4" height="3.4" fill="#0033ff"/>
<rect x="522.4" y="620.4" width="4.4" height="3.4" fill="#002fff"/>
<rect x="522.4" y="623.2" width="4.4" height="3.4" fill="#0028ff"/>
<rect x="522.4" y="626" width="4.4" height="3.4" fill="#0024ff"/>
<rect x="522.4" y="628.7" width="4.4" height="3.4" fill="#0021ff"/>
<rect x="522.4" y="631.5" width="4.4" height="6.1" fill="#001dff"/>
<rect x="522.4" y="637" width="4.4" height="6.1" fill="#0019ff"/>
<rect x="522.4" y="642.6" width="4.4" height="3.4" fill="#0016ff"/>
<rect x="443.1" y="645.4" width="83.7" height="3.4" fill="#0007ff"/>
<rect x="443.1" y="648.1" width="83.7" height="8.9" fill="#0004ff"/>
<rect x="443.1" y="656.4" width="83.7" height="79.1" fill="#0000ff"/>
<rect x="176.2" y="724.5" width="4.8" height="11" fill="#000bff"/><rect x="180.8" y="724.5" width="9.1" height="4" fill="#0019ff"/><rect x="180.8" y="727.7" width="9.1" height="7.8" fill="#003eff"/>
</g>
<g>
<path class="tk" d="M101.5 43.5h5M544.5 43.5h-5M101.5 70.5h5M544.5 70.5h-5M101.5 98.5h5M544.5 98.5h-5M101.5 126.5h5M544.5 126.5h-5M101.5 154.5h5M544.5 154.5h-5M101.5 181.5h5M544.5 181.5h-5M101.5 209.5h5M544.5 209.5h-5M101.5 237.5h5M544.5 237.5h-5M172.5 43.5v5M172.5 258.5v-5M268.5 43.5v5M268.5 258.5v-5M363.5 43.5v5M363.5 258.5v-5M458.5 43.5v5M458.5 258.5v-5"/>
<rect class="sp" x="101.5" y="43.5" width="443.0" height="215.0"/>
<text class="t12 n" text-anchor="end" x="97.2" y="46.9">0</text>
<text class="t12 n" text-anchor="end" x="97.2" y="74.6">20</text>
<text class="t12 n" text-anchor="end" x="97.2" y="102.3">40</text>
<text class="t12 n" text-anchor="end" x="97.2" y="130.0">60</text>
<text class="t12 n" text-anchor="end" x="97.2" y="157.8">80</text>
<text class="t12 n" text-anchor="end" x="97.2" y="185.5">100</text>
<text class="t12 n" text-anchor="end" x="97.2" y="213.2">120</text>
<text class="t12 n" text-anchor="end" x="97.2" y="240.9">140</text>
<text class="t14" text-anchor="middle" x="323.0" y="35.5">Ocean U (east)</text>
<text class="t12" text-anchor="middle" transform="translate(60 151.0) rotate(-90)">depth</text>
</g>
<g>
<path class="tk" d="M101.5 281.5h5M544.5 281.5h-5M101.5 309.5h5M544.5 309.5h-5M101.5 337.5h5M544.5 337.5h-5M101.5 364.5h5M544.5 364.5h-5M101.5 392.5h5M544.5 392.5h-5M101.5 420.5h5M544.5 420.5h-5M101.5 448.5h5M544.5 448.5h-5M101.5 475.5h5M544.5 475.5h-5M172.5 281.5v5M172.5 497.5v-5M268.5 281.5v5M268.5 497.5v-5M363.5 281.5v5M363.5 497.5v-5M458.5 281.5v5M458.5 497.5v-5"/>
<rect class="sp" x="101.5" y="281.5" width="443.0" height="216.0"/>
<text class="t12 n" text-anchor="end" x="97.2" y="286.2">0</text>
<text class="t12 n" text-anchor="end" x="97.2" y="313.9">20</text>
<text class="t12 n" text-anchor="end" x="97.2" y="341.6">40</text>
<text class="t12 n" text-anchor="end" x="97.2" y="369.3">60</text>
<text class="t12 n" text-anchor="end" x="97.2" y="397.1">80</text>
<text class="t12 n" text-anchor="end" x="97.2" y="424.8">100</text>
<text class="t12 n" text-anchor="end" x="97.2" y="452.5">120</text>
<text class="t12 n" text-anchor="end" x="97.2" y="480.2">140</text>
<text class="t14" text-anchor="middle" x="324.0" y="275.0">Ocean V (north)</text>
<text class="t12" text-anchor="middle" transform="translate(60 389.5) rotate(-90)">depth</text>
</g>
<g>
<path class="tk" d="M101.5 520.5h5M544.5 520.5h-5M101.5 548.5h5M544.5 548.5h-5M101.5 575.5h5M544.5 575.5h-5M101.5 603.5h5M544.5 603.5h-5M101.5 631.5h5M544.5 631.5h-5M101.5 658.5h5M544.5 658.5h-5M101.5 686.5h5M544.5 686.5h-5M101.5 714.5h5M544.5 714.5h-5M172.5 520.5v5M172.5 735.5v-5M268.5 520.5v5M268.5 735.5v-5M363.5 520.5v5M363.5 735.5v-5M458.5 520.5v5M458.5 735.5v-5"/>
<rect class="sp" x="101.5" y="520.5" width="443.0" height="215.0"/>
<text class="t12 n" text-anchor="end" x="97.2" y="524.9">0</text>
<text class="t12 n" text-anchor="end" x="97.2" y="552.6">20</text>
<text class="t12 n" text-anchor="end" x="97.2" y="580.3">40</text>
<text class="t12 n" text-anchor="end" x="97.2" y="608.0">60</text>
<text class="t12 n" text-anchor="end" x="97.2" y="635.8">80</text>
<text class="t12 n" text-anchor="end" x="97.2" y="663.5">100</text>
<text class="t12 n" text-anchor="end" x="97.2" y="691.2">120</text>
<text class="t12 n" text-anchor="end" x="97.2" y="718.9">140</text>
<text class="t14" text-anchor="middle" x="323.0" y="513.5">Signal Strength RSSI)</text>
<text class="t12" text-anchor="middle" transform="translate(60 628.0) rotate(-90)">dep</text>
</g>
<text class="t12 m" text-anchor="middle" x="172.2" y="752.0">18.22°N</text>
<text class="t12 m" text-anchor="middle" x="268.2" y="752.0">18.24°N</text>
<text class="t12 m" text-anchor="middle" x="363.2" y="752.0">18.26°N</text>
<text class="t12 m" text-anchor="middle" x="458.2" y="752.0">18.28°N</text>
<g>
<rect x="571.5" y="72.40" width="8.0" height="19.83" fill="#e0200c"/>
<rect x="571.5" y="91.93" width="8.0" height="19.83" fill="#ff7b26"/>
<rect x="571.5" y="111.46" width="8.0" height="19.83" fill="#ffc14f"/>
<rect x="571.5" y="130.99" width="8.0" height="19.83" fill="#fff2c0"/>
<rect x="571.5" y="150.52" width="8.0" height="19.83" fill="#d8efff"/>
<rect x="571.5" y="170.05" width="8.0" height="19.83" fill="#9dccff"/>
<rect x="571.5" y="189.58" width="8.0" height="19.83" fill="#3d5fff"/>
<rect x="571.5" y="209.11" width="8.0" height="19.83" fill="#3000e0"/>
<path d="M571.5 72.4L575.5 64.8L579.5 72.4z" fill="#7a0230"/>
<path d="M571.5 228.6L575.5 236.2L579.5 228.6z" fill="#3a0070"/>
<path class="sp" stroke-width="1" stroke-linejoin="miter" d="M571.5 72.4L575.5 64.8L579.5 72.4L579.5 228.6L575.5 236.2L571.5 228.6z"/>
<path class="tk" d="M580.5 72.5h-5M580.5 91.5h-5M580.5 111.5h-5M580.5 130.5h-5M580.5 150.5h-5M580.5 170.5h-5M580.5 189.5h-5M580.5 209.5h-5M580.5 228.5h-5"/>
<text class="t12 c" x="584" y="76.7">0.4</text>
<text class="t12 c" x="584" y="96.2">0.3</text>
<text class="t12 c" x="584" y="115.8">0.2</text>
<text class="t12 c" x="584" y="135.3">0.1</text>
<text class="t12 c" x="584" y="154.8">0.0</text>
<text class="t12 c" x="584" y="174.4">−0.1</text>
<text class="t12 c" x="584" y="193.9">−0.2</text>
<text class="t12 c" x="584" y="213.4">−0.3</text>
<text class="t12 c" x="584" y="232.9">−0.4</text>
<text class="t12 n" text-anchor="middle" transform="translate(636 152.2) rotate(-90)">m/s</text>
</g>
<g>
<rect x="571.5" y="311.20" width="8.0" height="19.83" fill="#e0200c"/>
<rect x="571.5" y="330.73" width="8.0" height="19.83" fill="#ff7b26"/>
<rect x="571.5" y="350.26" width="8.0" height="19.83" fill="#ffc14f"/>
<rect x="571.5" y="369.79" width="8.0" height="19.83" fill="#fff2c0"/>
<rect x="571.5" y="389.32" width="8.0" height="19.83" fill="#d8efff"/>
<rect x="571.5" y="408.85" width="8.0" height="19.83" fill="#9dccff"/>
<rect x="571.5" y="428.38" width="8.0" height="19.83" fill="#3d5fff"/>
<rect x="571.5" y="447.91" width="8.0" height="19.83" fill="#3000e0"/>
<path d="M571.5 311.2L575.5 303.6L579.5 311.2z" fill="#7a0230"/>
<path d="M571.5 467.4L575.5 475.0L579.5 467.4z" fill="#3a0070"/>
<path class="sp" stroke-width="1" stroke-linejoin="miter" d="M571.5 311.2L575.5 303.6L579.5 311.2L579.5 467.4L575.5 475.0L571.5 467.4z"/>
<path class="tk" d="M580.5 311.5h-5M580.5 330.5h-5M580.5 350.5h-5M580.5 369.5h-5M580.5 389.5h-5M580.5 408.5h-5M580.5 428.5h-5M580.5 447.5h-5M580.5 467.5h-5"/>
<text class="t12 c" x="584" y="315.5">0.4</text>
<text class="t12 c" x="584" y="335.0">0.3</text>
<text class="t12 c" x="584" y="354.6">0.2</text>
<text class="t12 c" x="584" y="374.1">0.1</text>
<text class="t12 c" x="584" y="393.6">0.0</text>
<text class="t12 c" x="584" y="413.2">−0.1</text>
<text class="t12 c" x="584" y="432.7">−0.2</text>
<text class="t12 c" x="584" y="452.2">−0.3</text>
<text class="t12 c" x="584" y="471.7">−0.4</text>
<text class="t12 n" text-anchor="middle" transform="translate(636 390.7) rotate(-90)">m/s</text>
</g>
<defs><linearGradient id="jet" x1="0" y1="1" x2="0" y2="0"><stop offset="0.000" stop-color="#000080"/><stop offset="0.110" stop-color="#0000ff"/><stop offset="0.125" stop-color="#0000ff"/><stop offset="0.200" stop-color="#004dff"/><stop offset="0.300" stop-color="#00b2ff"/><stop offset="0.340" stop-color="#00dbff"/><stop offset="0.350" stop-color="#00e5f7"/><stop offset="0.375" stop-color="#15ffe2"/><stop offset="0.450" stop-color="#52ffa5"/><stop offset="0.550" stop-color="#a5ff52"/><stop offset="0.640" stop-color="#efff08"/><stop offset="0.650" stop-color="#f7f600"/><stop offset="0.660" stop-color="#ffec00"/><stop offset="0.750" stop-color="#ff9700"/><stop offset="0.850" stop-color="#ff3900"/><stop offset="0.890" stop-color="#ff1300"/><stop offset="0.910" stop-color="#e80000"/><stop offset="1.000" stop-color="#800000"/></linearGradient></defs>
<rect x="571.5" y="530.0" width="10.0" height="196.0" fill="url(#jet)"/>
<path d="M571.5 530.3L576.5 520.7L581.5 530.3z" fill="#800000"/>
<path d="M571.5 725.7L576.5 735.3L581.5 725.7z" fill="#000080"/>
<path class="sp" stroke-width="1" d="M571.5 530.0L576.5 520.7L581.5 530.0L581.5 726.0L576.5 735.3L571.5 726.0z"/>
<path class="tk" d="M582.5 530.5h-5"/>
<text class="t12 n" x="586.6" y="533.4">160</text>
<path class="tk" d="M582.5 586.5h-5"/>
<text class="t12 n" x="586.6" y="589.5">120</text>
<path class="tk" d="M582.5 642.5h-5"/>
<text class="t12 n" x="586.6" y="645.6">80</text>
<path class="tk" d="M582.5 698.5h-5"/>
<text class="t12 n" x="586.6" y="701.8">40</text>
<text text-anchor="middle" font-size="12.5" transform="translate(628.2 628.9) rotate(-90)">RSSI counts</text>
<text text-anchor="middle" font-size="17.5" font-weight="bold" x="338.3" y="809">wh300: last time 2018/11/14 22:27:39</text>
</svg>
</body></html>
